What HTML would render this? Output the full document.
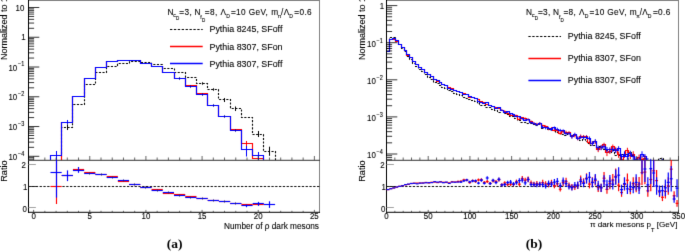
<!DOCTYPE html>
<html><head><meta charset="utf-8"><style>
html,body{margin:0;padding:0;background:#fff;}
body{width:685px;height:252px;overflow:hidden;}
svg{display:block;}
text{font-family:"Liberation Sans", sans-serif;}
</style></head><body>
<svg width="685" height="252" viewBox="0 0 685 252">
<rect width="685" height="252" fill="#fff"/>
<filter id="soft" color-interpolation-filters="sRGB" filterUnits="userSpaceOnUse" x="0" y="0" width="685" height="252"><feConvolveMatrix order="3" kernelMatrix="0 1 0 1 8 1 0 1 0" divisor="12" edgeMode="duplicate"/></filter>
<g filter="url(#soft)">
<g>
<clipPath id="cu"><rect x="28" y="0" width="292" height="160"/></clipPath>
<clipPath id="cl"><rect x="28" y="160" width="292" height="52"/></clipPath>
<clipPath id="cu2"><rect x="386" y="0" width="293" height="160"/></clipPath>
<clipPath id="cl2"><rect x="386" y="160" width="293" height="52"/></clipPath>
<g clip-path="url(#cu)">
<path d="M28.5,160.5 L39.5,160.5 L39.5,160.5 L50.5,160.5 L50.5,160.5 L61.5,160.5 L61.5,127.5 L72.5,127.5 L72.5,104.5 L84.5,104.5 L84.5,84.5 L95.5,84.5 L95.5,72.5 L106.5,72.5 L106.5,66.5 L117.5,66.5 L117.5,63.5 L129.5,63.5 L129.5,61.5 L140.5,61.5 L140.5,62.5 L151.5,62.5 L151.5,64.5 L162.5,64.5 L162.5,68.5 L174.5,68.5 L174.5,72.5 L185.5,72.5 L185.5,77.5 L196.5,77.5 L196.5,83.5 L207.5,83.5 L207.5,89.5 L218.5,89.5 L218.5,99.5 L230.5,99.5 L230.5,108.5 L241.5,108.5 L241.5,117.5 L252.5,117.5 L252.5,134.5 L263.5,134.5 L263.5,151.5 L275.5,151.5 L275.5,160.5 L286.5,160.5 L286.5,160.5 L297.5,160.5 L297.5,160.5 L308.5,160.5 L308.5,160.5 L320.5,160.5" fill="none" stroke="#000" stroke-width="1.1" stroke-dasharray="2.1,1.5"/>
<path d="M28.5,160.5 L39.5,160.5 L39.5,160.5 L50.5,160.5 L50.5,160.5 L61.5,160.5 L61.5,122.5 L72.5,122.5 L72.5,96.5 L84.5,96.5 L84.5,78.5 L95.5,78.5 L95.5,67.5 L106.5,67.5 L106.5,61.5 L117.5,61.5 L117.5,60.5 L129.5,60.5 L129.5,60.5 L140.5,60.5 L140.5,63.5 L151.5,63.5 L151.5,66.5 L162.5,66.5 L162.5,72.5 L174.5,72.5 L174.5,78.5 L185.5,78.5 L185.5,85.5 L196.5,85.5 L196.5,93.5 L207.5,93.5 L207.5,105.5 L218.5,105.5 L218.5,116.5 L230.5,116.5 L230.5,129.5 L241.5,129.5 L241.5,143.5 L252.5,143.5 L252.5,158.5 L263.5,158.5 L263.5,160.5 L275.5,160.5 L275.5,160.5 L286.5,160.5 L286.5,160.5 L297.5,160.5 L297.5,160.5 L308.5,160.5 L308.5,160.5 L320.5,160.5" fill="none" stroke="#ff0000" stroke-width="1.15" />
<path d="M28.5,160.5 L39.5,160.5 L39.5,160.5 L50.5,160.5 L50.5,155.5 L61.5,155.5 L61.5,122.5 L72.5,122.5 L72.5,96.5 L84.5,96.5 L84.5,78.5 L95.5,78.5 L95.5,67.5 L106.5,67.5 L106.5,61.5 L117.5,61.5 L117.5,60.5 L129.5,60.5 L129.5,60.5 L140.5,60.5 L140.5,63.5 L151.5,63.5 L151.5,66.5 L162.5,66.5 L162.5,72.5 L174.5,72.5 L174.5,78.5 L185.5,78.5 L185.5,86.5 L196.5,86.5 L196.5,94.5 L207.5,94.5 L207.5,105.5 L218.5,105.5 L218.5,116.5 L230.5,116.5 L230.5,130.5 L241.5,130.5 L241.5,149.5 L252.5,149.5 L252.5,155.5 L263.5,155.5 L263.5,160.5 L275.5,160.5 L275.5,160.5 L286.5,160.5 L286.5,160.5 L297.5,160.5 L297.5,160.5 L308.5,160.5 L308.5,160.5 L320.5,160.5" fill="none" stroke="#0000ff" stroke-width="1.15" />
<line x1="56.5" y1="151" x2="56.5" y2="161" stroke="#0000ff" stroke-width="1" />
<line x1="67.5" y1="120" x2="67.5" y2="124.5" stroke="#0000ff" stroke-width="1" />
<line x1="67.5" y1="124.5" x2="67.5" y2="130" stroke="#000" stroke-width="1" />
<line x1="246.5" y1="141" x2="246.5" y2="146" stroke="#ff0000" stroke-width="1" />
<line x1="246.5" y1="146" x2="246.5" y2="156.5" stroke="#0000ff" stroke-width="1" />
<line x1="258.5" y1="152" x2="258.5" y2="161" stroke="#0000ff" stroke-width="1" />
<line x1="258.5" y1="131" x2="258.5" y2="137" stroke="#000" stroke-width="1" />
<line x1="269.5" y1="146.7" x2="269.5" y2="155.8" stroke="#000" stroke-width="1" />
<line x1="235.5" y1="106.5" x2="235.5" y2="111" stroke="#000" stroke-width="1" />
<line x1="224.5" y1="98" x2="224.5" y2="102" stroke="#000" stroke-width="1" />
<line x1="202.5" y1="82.2" x2="202.5" y2="84.8" stroke="#000" stroke-width="0.9" />
<line x1="213.5" y1="88.2" x2="213.5" y2="90.8" stroke="#000" stroke-width="0.9" />
<line x1="224.5" y1="98.2" x2="224.5" y2="100.8" stroke="#000" stroke-width="0.9" />
<line x1="235.5" y1="107.2" x2="235.5" y2="109.8" stroke="#000" stroke-width="0.9" />
<line x1="179.5" y1="77.2" x2="179.5" y2="79.8" stroke="#0000aa" stroke-width="0.9" />
<line x1="190.5" y1="85.2" x2="190.5" y2="87.8" stroke="#0000aa" stroke-width="0.9" />
<line x1="202.5" y1="93.2" x2="202.5" y2="95.8" stroke="#0000aa" stroke-width="0.9" />
<line x1="213.5" y1="104.2" x2="213.5" y2="106.8" stroke="#0000aa" stroke-width="0.9" />
<line x1="224.5" y1="115.2" x2="224.5" y2="117.8" stroke="#0000aa" stroke-width="0.9" />
<line x1="235.5" y1="129.2" x2="235.5" y2="131.8" stroke="#0000aa" stroke-width="0.9" />
</g>
<line x1="28.5" y1="0.5" x2="319.5" y2="0.5" stroke="#808080" stroke-width="1" />
<line x1="319.5" y1="0" x2="319.5" y2="160" stroke="#808080" stroke-width="1" />
<line x1="28.5" y1="0" x2="28.5" y2="160.5" stroke="#000000" stroke-width="1" />
<line x1="319.5" y1="160" x2="319.5" y2="212.8" stroke="#808080" stroke-width="1" />
<line x1="28.5" y1="160" x2="28.5" y2="212.8" stroke="#000000" stroke-width="1" />
<line x1="28" y1="212.3" x2="320" y2="212.3" stroke="#000000" stroke-width="1" />
<line x1="28.5" y1="159.18" x2="34.1" y2="159.18" stroke="#000000" stroke-width="0.8" />
<line x1="28.5" y1="157.66" x2="34.1" y2="157.66" stroke="#000000" stroke-width="0.8" />
<line x1="28.5" y1="156.3" x2="39.3" y2="156.3" stroke="#000000" stroke-width="0.8" />
<line x1="28.5" y1="147.34" x2="34.1" y2="147.34" stroke="#000000" stroke-width="0.8" />
<line x1="28.5" y1="142.1" x2="34.1" y2="142.1" stroke="#000000" stroke-width="0.8" />
<line x1="28.5" y1="138.38" x2="34.1" y2="138.38" stroke="#000000" stroke-width="0.8" />
<line x1="28.5" y1="135.5" x2="34.1" y2="135.5" stroke="#000000" stroke-width="0.8" />
<line x1="28.5" y1="133.14" x2="34.1" y2="133.14" stroke="#000000" stroke-width="0.8" />
<line x1="28.5" y1="131.15" x2="34.1" y2="131.15" stroke="#000000" stroke-width="0.8" />
<line x1="28.5" y1="129.42" x2="34.1" y2="129.42" stroke="#000000" stroke-width="0.8" />
<line x1="28.5" y1="127.9" x2="34.1" y2="127.9" stroke="#000000" stroke-width="0.8" />
<line x1="28.5" y1="126.54" x2="39.3" y2="126.54" stroke="#000000" stroke-width="0.8" />
<line x1="28.5" y1="117.58" x2="34.1" y2="117.58" stroke="#000000" stroke-width="0.8" />
<line x1="28.5" y1="112.34" x2="34.1" y2="112.34" stroke="#000000" stroke-width="0.8" />
<line x1="28.5" y1="108.62" x2="34.1" y2="108.62" stroke="#000000" stroke-width="0.8" />
<line x1="28.5" y1="105.74" x2="34.1" y2="105.74" stroke="#000000" stroke-width="0.8" />
<line x1="28.5" y1="103.38" x2="34.1" y2="103.38" stroke="#000000" stroke-width="0.8" />
<line x1="28.5" y1="101.39" x2="34.1" y2="101.39" stroke="#000000" stroke-width="0.8" />
<line x1="28.5" y1="99.66" x2="34.1" y2="99.66" stroke="#000000" stroke-width="0.8" />
<line x1="28.5" y1="98.14" x2="34.1" y2="98.14" stroke="#000000" stroke-width="0.8" />
<line x1="28.5" y1="96.78" x2="39.3" y2="96.78" stroke="#000000" stroke-width="0.8" />
<line x1="28.5" y1="87.82" x2="34.1" y2="87.82" stroke="#000000" stroke-width="0.8" />
<line x1="28.5" y1="82.58" x2="34.1" y2="82.58" stroke="#000000" stroke-width="0.8" />
<line x1="28.5" y1="78.86" x2="34.1" y2="78.86" stroke="#000000" stroke-width="0.8" />
<line x1="28.5" y1="75.98" x2="34.1" y2="75.98" stroke="#000000" stroke-width="0.8" />
<line x1="28.5" y1="73.62" x2="34.1" y2="73.62" stroke="#000000" stroke-width="0.8" />
<line x1="28.5" y1="71.63" x2="34.1" y2="71.63" stroke="#000000" stroke-width="0.8" />
<line x1="28.5" y1="69.9" x2="34.1" y2="69.9" stroke="#000000" stroke-width="0.8" />
<line x1="28.5" y1="68.38" x2="34.1" y2="68.38" stroke="#000000" stroke-width="0.8" />
<line x1="28.5" y1="67.02" x2="39.3" y2="67.02" stroke="#000000" stroke-width="0.8" />
<line x1="28.5" y1="58.06" x2="34.1" y2="58.06" stroke="#000000" stroke-width="0.8" />
<line x1="28.5" y1="52.82" x2="34.1" y2="52.82" stroke="#000000" stroke-width="0.8" />
<line x1="28.5" y1="49.1" x2="34.1" y2="49.1" stroke="#000000" stroke-width="0.8" />
<line x1="28.5" y1="46.22" x2="34.1" y2="46.22" stroke="#000000" stroke-width="0.8" />
<line x1="28.5" y1="43.86" x2="34.1" y2="43.86" stroke="#000000" stroke-width="0.8" />
<line x1="28.5" y1="41.87" x2="34.1" y2="41.87" stroke="#000000" stroke-width="0.8" />
<line x1="28.5" y1="40.14" x2="34.1" y2="40.14" stroke="#000000" stroke-width="0.8" />
<line x1="28.5" y1="38.62" x2="34.1" y2="38.62" stroke="#000000" stroke-width="0.8" />
<line x1="28.5" y1="37.26" x2="39.3" y2="37.26" stroke="#000000" stroke-width="0.8" />
<line x1="28.5" y1="28.3" x2="34.1" y2="28.3" stroke="#000000" stroke-width="0.8" />
<line x1="28.5" y1="23.06" x2="34.1" y2="23.06" stroke="#000000" stroke-width="0.8" />
<line x1="28.5" y1="19.34" x2="34.1" y2="19.34" stroke="#000000" stroke-width="0.8" />
<line x1="28.5" y1="16.46" x2="34.1" y2="16.46" stroke="#000000" stroke-width="0.8" />
<line x1="28.5" y1="14.1" x2="34.1" y2="14.1" stroke="#000000" stroke-width="0.8" />
<line x1="28.5" y1="12.11" x2="34.1" y2="12.11" stroke="#000000" stroke-width="0.8" />
<line x1="28.5" y1="10.38" x2="34.1" y2="10.38" stroke="#000000" stroke-width="0.8" />
<line x1="28.5" y1="8.86" x2="34.1" y2="8.86" stroke="#000000" stroke-width="0.8" />
<line x1="28.5" y1="7.5" x2="39.3" y2="7.5" stroke="#000000" stroke-width="0.8" />
<line x1="33.62" y1="160" x2="33.62" y2="156" stroke="#333" stroke-width="0.75" />
<line x1="33.62" y1="212.3" x2="33.62" y2="209.9" stroke="#333" stroke-width="0.75" />
<line x1="44.85" y1="160" x2="44.85" y2="157.5" stroke="#333" stroke-width="0.75" />
<line x1="44.85" y1="212.3" x2="44.85" y2="210.8" stroke="#333" stroke-width="0.75" />
<line x1="56.08" y1="160" x2="56.08" y2="157.5" stroke="#333" stroke-width="0.75" />
<line x1="56.08" y1="212.3" x2="56.08" y2="210.8" stroke="#333" stroke-width="0.75" />
<line x1="67.31" y1="160" x2="67.31" y2="157.5" stroke="#333" stroke-width="0.75" />
<line x1="67.31" y1="212.3" x2="67.31" y2="210.8" stroke="#333" stroke-width="0.75" />
<line x1="78.54" y1="160" x2="78.54" y2="157.5" stroke="#333" stroke-width="0.75" />
<line x1="78.54" y1="212.3" x2="78.54" y2="210.8" stroke="#333" stroke-width="0.75" />
<line x1="89.77" y1="160" x2="89.77" y2="156" stroke="#333" stroke-width="0.75" />
<line x1="89.77" y1="212.3" x2="89.77" y2="209.9" stroke="#333" stroke-width="0.75" />
<line x1="101" y1="160" x2="101" y2="157.5" stroke="#333" stroke-width="0.75" />
<line x1="101" y1="212.3" x2="101" y2="210.8" stroke="#333" stroke-width="0.75" />
<line x1="112.23" y1="160" x2="112.23" y2="157.5" stroke="#333" stroke-width="0.75" />
<line x1="112.23" y1="212.3" x2="112.23" y2="210.8" stroke="#333" stroke-width="0.75" />
<line x1="123.46" y1="160" x2="123.46" y2="157.5" stroke="#333" stroke-width="0.75" />
<line x1="123.46" y1="212.3" x2="123.46" y2="210.8" stroke="#333" stroke-width="0.75" />
<line x1="134.69" y1="160" x2="134.69" y2="157.5" stroke="#333" stroke-width="0.75" />
<line x1="134.69" y1="212.3" x2="134.69" y2="210.8" stroke="#333" stroke-width="0.75" />
<line x1="145.92" y1="160" x2="145.92" y2="156" stroke="#333" stroke-width="0.75" />
<line x1="145.92" y1="212.3" x2="145.92" y2="209.9" stroke="#333" stroke-width="0.75" />
<line x1="157.15" y1="160" x2="157.15" y2="157.5" stroke="#333" stroke-width="0.75" />
<line x1="157.15" y1="212.3" x2="157.15" y2="210.8" stroke="#333" stroke-width="0.75" />
<line x1="168.38" y1="160" x2="168.38" y2="157.5" stroke="#333" stroke-width="0.75" />
<line x1="168.38" y1="212.3" x2="168.38" y2="210.8" stroke="#333" stroke-width="0.75" />
<line x1="179.62" y1="160" x2="179.62" y2="157.5" stroke="#333" stroke-width="0.75" />
<line x1="179.62" y1="212.3" x2="179.62" y2="210.8" stroke="#333" stroke-width="0.75" />
<line x1="190.85" y1="160" x2="190.85" y2="157.5" stroke="#333" stroke-width="0.75" />
<line x1="190.85" y1="212.3" x2="190.85" y2="210.8" stroke="#333" stroke-width="0.75" />
<line x1="202.08" y1="160" x2="202.08" y2="156" stroke="#333" stroke-width="0.75" />
<line x1="202.08" y1="212.3" x2="202.08" y2="209.9" stroke="#333" stroke-width="0.75" />
<line x1="213.31" y1="160" x2="213.31" y2="157.5" stroke="#333" stroke-width="0.75" />
<line x1="213.31" y1="212.3" x2="213.31" y2="210.8" stroke="#333" stroke-width="0.75" />
<line x1="224.54" y1="160" x2="224.54" y2="157.5" stroke="#333" stroke-width="0.75" />
<line x1="224.54" y1="212.3" x2="224.54" y2="210.8" stroke="#333" stroke-width="0.75" />
<line x1="235.77" y1="160" x2="235.77" y2="157.5" stroke="#333" stroke-width="0.75" />
<line x1="235.77" y1="212.3" x2="235.77" y2="210.8" stroke="#333" stroke-width="0.75" />
<line x1="247" y1="160" x2="247" y2="157.5" stroke="#333" stroke-width="0.75" />
<line x1="247" y1="212.3" x2="247" y2="210.8" stroke="#333" stroke-width="0.75" />
<line x1="258.23" y1="160" x2="258.23" y2="156" stroke="#333" stroke-width="0.75" />
<line x1="258.23" y1="212.3" x2="258.23" y2="209.9" stroke="#333" stroke-width="0.75" />
<line x1="269.46" y1="160" x2="269.46" y2="157.5" stroke="#333" stroke-width="0.75" />
<line x1="269.46" y1="212.3" x2="269.46" y2="210.8" stroke="#333" stroke-width="0.75" />
<line x1="280.69" y1="160" x2="280.69" y2="157.5" stroke="#333" stroke-width="0.75" />
<line x1="280.69" y1="212.3" x2="280.69" y2="210.8" stroke="#333" stroke-width="0.75" />
<line x1="291.92" y1="160" x2="291.92" y2="157.5" stroke="#333" stroke-width="0.75" />
<line x1="291.92" y1="212.3" x2="291.92" y2="210.8" stroke="#333" stroke-width="0.75" />
<line x1="303.15" y1="160" x2="303.15" y2="157.5" stroke="#333" stroke-width="0.75" />
<line x1="303.15" y1="212.3" x2="303.15" y2="210.8" stroke="#333" stroke-width="0.75" />
<line x1="314.38" y1="160" x2="314.38" y2="156" stroke="#333" stroke-width="0.75" />
<line x1="314.38" y1="212.3" x2="314.38" y2="209.9" stroke="#333" stroke-width="0.75" />
<line x1="28" y1="160.3" x2="320" y2="160.3" stroke="#333" stroke-width="1" />
<line x1="28.5" y1="164.5" x2="35.9" y2="164.5" stroke="#999" stroke-width="0.9" />
<line x1="28.5" y1="207.5" x2="35.9" y2="207.5" stroke="#999" stroke-width="0.9" />
<line x1="28.5" y1="186.5" x2="37.7" y2="186.5" stroke="#333" stroke-width="1" />
<g clip-path="url(#cl)">
<line x1="28" y1="186.5" x2="320" y2="186.5" stroke="#111" stroke-width="1" stroke-dasharray="2.3,1.5" stroke-dashoffset="-0.2"/>
<line x1="50.46" y1="186.5" x2="61.69" y2="186.5" stroke="#ff0000" stroke-width="1.15" />
<line x1="56.5" y1="160" x2="56.5" y2="204" stroke="#ff0000" stroke-width="1.15" />
<line x1="61.69" y1="175.5" x2="72.92" y2="175.5" stroke="#ff0000" stroke-width="1.15" />
<line x1="72.92" y1="169.5" x2="84.15" y2="169.5" stroke="#ff0000" stroke-width="1.15" />
<line x1="84.15" y1="172.5" x2="95.38" y2="172.5" stroke="#ff0000" stroke-width="1.15" />
<line x1="95.38" y1="174.5" x2="106.62" y2="174.5" stroke="#ff0000" stroke-width="1.15" />
<line x1="106.62" y1="176.5" x2="117.85" y2="176.5" stroke="#ff0000" stroke-width="1.15" />
<line x1="117.85" y1="181.5" x2="129.08" y2="181.5" stroke="#ff0000" stroke-width="1.15" />
<line x1="129.08" y1="184.5" x2="140.31" y2="184.5" stroke="#ff0000" stroke-width="1.15" />
<line x1="140.31" y1="187.5" x2="151.54" y2="187.5" stroke="#ff0000" stroke-width="1.15" />
<line x1="151.54" y1="189.5" x2="162.77" y2="189.5" stroke="#ff0000" stroke-width="1.15" />
<line x1="162.77" y1="193.5" x2="174" y2="193.5" stroke="#ff0000" stroke-width="1.15" />
<line x1="174" y1="194.5" x2="185.23" y2="194.5" stroke="#ff0000" stroke-width="1.15" />
<line x1="185.23" y1="196.5" x2="196.46" y2="196.5" stroke="#ff0000" stroke-width="1.15" />
<line x1="196.46" y1="198.5" x2="207.69" y2="198.5" stroke="#ff0000" stroke-width="1.15" />
<line x1="207.69" y1="200.5" x2="218.92" y2="200.5" stroke="#ff0000" stroke-width="1.15" />
<line x1="218.92" y1="201.5" x2="230.15" y2="201.5" stroke="#ff0000" stroke-width="1.15" />
<line x1="230.15" y1="203.5" x2="241.38" y2="203.5" stroke="#ff0000" stroke-width="1.15" />
<line x1="241.38" y1="204.5" x2="252.62" y2="204.5" stroke="#ff0000" stroke-width="1.15" />
<line x1="252.62" y1="204.5" x2="263.85" y2="204.5" stroke="#ff0000" stroke-width="1.15" />
<line x1="50.46" y1="172.5" x2="61.69" y2="172.5" stroke="#0000ff" stroke-width="1.15" />
<line x1="56.5" y1="158" x2="56.5" y2="197.6" stroke="#0000ff" stroke-width="1.15" />
<line x1="61.69" y1="175.5" x2="72.92" y2="175.5" stroke="#0000ff" stroke-width="1.15" />
<line x1="67.5" y1="170.4" x2="67.5" y2="181.1" stroke="#0000ff" stroke-width="1.15" />
<line x1="72.92" y1="170.5" x2="84.15" y2="170.5" stroke="#0000ff" stroke-width="1.15" />
<line x1="78.5" y1="167" x2="78.5" y2="172.8" stroke="#0000ff" stroke-width="1.15" />
<line x1="84.15" y1="173.5" x2="95.38" y2="173.5" stroke="#0000ff" stroke-width="1.15" />
<line x1="89.5" y1="172.5" x2="89.5" y2="174.5" stroke="#202080" stroke-width="1" />
<line x1="95.38" y1="174.5" x2="106.62" y2="174.5" stroke="#0000ff" stroke-width="1.15" />
<line x1="101.5" y1="173.5" x2="101.5" y2="175.5" stroke="#202080" stroke-width="1" />
<line x1="106.62" y1="177.5" x2="117.85" y2="177.5" stroke="#0000ff" stroke-width="1.15" />
<line x1="112.5" y1="176.5" x2="112.5" y2="178.5" stroke="#202080" stroke-width="1" />
<line x1="117.85" y1="180.5" x2="129.08" y2="180.5" stroke="#0000ff" stroke-width="1.15" />
<line x1="123.5" y1="179.5" x2="123.5" y2="181.5" stroke="#202080" stroke-width="1" />
<line x1="129.08" y1="184.5" x2="140.31" y2="184.5" stroke="#0000ff" stroke-width="1.15" />
<line x1="134.5" y1="183.5" x2="134.5" y2="185.5" stroke="#202080" stroke-width="1" />
<line x1="140.31" y1="187.5" x2="151.54" y2="187.5" stroke="#0000ff" stroke-width="1.15" />
<line x1="145.5" y1="186.5" x2="145.5" y2="188.5" stroke="#202080" stroke-width="1" />
<line x1="151.54" y1="190.5" x2="162.77" y2="190.5" stroke="#0000ff" stroke-width="1.15" />
<line x1="157.5" y1="189.5" x2="157.5" y2="191.5" stroke="#202080" stroke-width="1" />
<line x1="162.77" y1="192.5" x2="174" y2="192.5" stroke="#0000ff" stroke-width="1.15" />
<line x1="168.5" y1="191.5" x2="168.5" y2="193.5" stroke="#202080" stroke-width="1" />
<line x1="174" y1="195.5" x2="185.23" y2="195.5" stroke="#0000ff" stroke-width="1.15" />
<line x1="179.5" y1="194.5" x2="179.5" y2="196.5" stroke="#202080" stroke-width="1" />
<line x1="185.23" y1="197.5" x2="196.46" y2="197.5" stroke="#0000ff" stroke-width="1.15" />
<line x1="190.5" y1="196.5" x2="190.5" y2="198.5" stroke="#202080" stroke-width="1" />
<line x1="196.46" y1="198.5" x2="207.69" y2="198.5" stroke="#0000ff" stroke-width="1.15" />
<line x1="202.5" y1="197.5" x2="202.5" y2="199.5" stroke="#202080" stroke-width="1" />
<line x1="207.69" y1="200.5" x2="218.92" y2="200.5" stroke="#0000ff" stroke-width="1.15" />
<line x1="213.5" y1="199.5" x2="213.5" y2="201.5" stroke="#202080" stroke-width="1" />
<line x1="218.92" y1="201.5" x2="230.15" y2="201.5" stroke="#0000ff" stroke-width="1.15" />
<line x1="224.5" y1="200.5" x2="224.5" y2="202.5" stroke="#202080" stroke-width="1" />
<line x1="230.15" y1="203.5" x2="241.38" y2="203.5" stroke="#0000ff" stroke-width="1.15" />
<line x1="235.5" y1="202.5" x2="235.5" y2="204.5" stroke="#202080" stroke-width="1" />
<line x1="241.38" y1="205.5" x2="252.62" y2="205.5" stroke="#0000ff" stroke-width="1.15" />
<line x1="246.5" y1="204.5" x2="246.5" y2="207.2" stroke="#0000ff" stroke-width="1.15" />
<line x1="252.62" y1="203.5" x2="263.85" y2="203.5" stroke="#0000ff" stroke-width="1.15" />
<line x1="258.5" y1="201.9" x2="258.5" y2="205.9" stroke="#0000ff" stroke-width="1.15" />
<line x1="263.85" y1="204.5" x2="275.08" y2="204.5" stroke="#0000ff" stroke-width="1.15" />
<line x1="269.5" y1="201.3" x2="269.5" y2="207.9" stroke="#0000ff" stroke-width="1.15" />
</g>
</g>
<g clip-path="url(#cu2)">
<path d="M386.5,48.5 L389.5,48.5 L389.5,37.5 L392.5,37.5 L392.5,37.5 L395.5,37.5 L395.5,40.5 L398.5,40.5 L398.5,44.5 L401.5,44.5 L401.5,48.5 L404.5,48.5 L404.5,51.5 L406.5,51.5 L406.5,56.5 L409.5,56.5 L409.5,59.5 L412.5,59.5 L412.5,63.5 L415.5,63.5 L415.5,66.5 L418.5,66.5 L418.5,69.5 L421.5,69.5 L421.5,71.5 L424.5,71.5 L424.5,74.5 L427.5,74.5 L427.5,77.5 L430.5,77.5 L430.5,79.5 L433.5,79.5 L433.5,82.5 L436.5,82.5 L436.5,83.5 L439.5,83.5 L439.5,85.5 L441.5,85.5 L441.5,87.5 L444.5,87.5 L444.5,88.5 L447.5,88.5 L447.5,90.5 L450.5,90.5 L450.5,91.5 L453.5,91.5 L453.5,93.5 L456.5,93.5 L456.5,94.5 L459.5,94.5 L459.5,95.5 L462.5,95.5 L462.5,97.5 L465.5,97.5 L465.5,98.5 L468.5,98.5 L468.5,99.5 L471.5,99.5 L471.5,100.5 L474.5,100.5 L474.5,101.5 L477.5,101.5 L477.5,103.5 L479.5,103.5 L479.5,105.5 L482.5,105.5 L482.5,105.5 L485.5,105.5 L485.5,107.5 L488.5,107.5 L488.5,107.5 L491.5,107.5 L491.5,109.5 L494.5,109.5 L494.5,110.5 L497.5,110.5 L497.5,112.5 L500.5,112.5 L500.5,110.5 L503.5,110.5 L503.5,113.5 L506.5,113.5 L506.5,114.5 L509.5,114.5 L509.5,116.5 L512.5,116.5 L512.5,116.5 L514.5,116.5 L514.5,118.5 L517.5,118.5 L517.5,120.5 L520.5,120.5 L520.5,122.5 L523.5,122.5 L523.5,122.5 L526.5,122.5 L526.5,123.5 L529.5,123.5 L529.5,123.5 L532.5,123.5 L532.5,124.5 L535.5,124.5 L535.5,125.5 L538.5,125.5 L538.5,124.5 L541.5,124.5 L541.5,128.5 L544.5,128.5 L544.5,127.5 L547.5,127.5 L547.5,129.5 L550.5,129.5 L550.5,130.5 L552.5,130.5 L552.5,130.5 L555.5,130.5 L555.5,132.5 L558.5,132.5 L558.5,130.5 L561.5,130.5 L561.5,134.5 L564.5,134.5 L564.5,135.5 L567.5,135.5 L567.5,133.5 L570.5,133.5 L570.5,135.5 L573.5,135.5 L573.5,134.5 L576.5,134.5 L576.5,138.5 L579.5,138.5 L579.5,140.5 L582.5,140.5 L582.5,139.5 L585.5,139.5 L585.5,141.5 L587.5,141.5 L587.5,143.5 L590.5,143.5 L590.5,145.5 L593.5,145.5 L593.5,145.5 L596.5,145.5 L596.5,148.5 L599.5,148.5 L599.5,146.5 L602.5,146.5 L602.5,149.5 L605.5,149.5 L605.5,150.5 L608.5,150.5 L608.5,152.5 L611.5,152.5 L611.5,150.5 L614.5,150.5 L614.5,155.5 L617.5,155.5 L617.5,155.5 L620.5,155.5 L620.5,154.5 L623.5,154.5 L623.5,155.5 L625.5,155.5 L625.5,154.5 L628.5,154.5 L628.5,152.5 L631.5,152.5 L631.5,155.5 L634.5,155.5 L634.5,162.5 L637.5,162.5 L637.5,158.5 L640.5,158.5 L640.5,162.5 L643.5,162.5 L643.5,162.5 L646.5,162.5 L646.5,162.5 L649.5,162.5 L649.5,162.5 L652.5,162.5 L652.5,162.5 L655.5,162.5 L655.5,162.5 L658.5,162.5 L658.5,158.5 L660.5,158.5 L660.5,158.5 L663.5,158.5 L663.5,162.5 L666.5,162.5 L666.5,162.5 L669.5,162.5 L669.5,162.5 L672.5,162.5 L672.5,160.5 L675.5,160.5 L675.5,162.5 L678.5,162.5" fill="none" stroke="#000" stroke-width="1.05" stroke-dasharray="2.1,1.5"/>
<path d="M386.5,51.5 L389.5,51.5 L389.5,39.5 L392.5,39.5 L392.5,39.5 L395.5,39.5 L395.5,41.5 L398.5,41.5 L398.5,44.5 L401.5,44.5 L401.5,47.5 L404.5,47.5 L404.5,50.5 L406.5,50.5 L406.5,55.5 L409.5,55.5 L409.5,57.5 L412.5,57.5 L412.5,61.5 L415.5,61.5 L415.5,64.5 L418.5,64.5 L418.5,67.5 L421.5,67.5 L421.5,69.5 L424.5,69.5 L424.5,72.5 L427.5,72.5 L427.5,74.5 L430.5,74.5 L430.5,76.5 L433.5,76.5 L433.5,79.5 L436.5,79.5 L436.5,81.5 L439.5,81.5 L439.5,82.5 L441.5,82.5 L441.5,84.5 L444.5,84.5 L444.5,85.5 L447.5,85.5 L447.5,87.5 L450.5,87.5 L450.5,88.5 L453.5,88.5 L453.5,90.5 L456.5,90.5 L456.5,91.5 L459.5,91.5 L459.5,92.5 L462.5,92.5 L462.5,93.5 L465.5,93.5 L465.5,94.5 L468.5,94.5 L468.5,97.5 L471.5,97.5 L471.5,97.5 L474.5,97.5 L474.5,98.5 L477.5,98.5 L477.5,99.5 L479.5,99.5 L479.5,101.5 L482.5,101.5 L482.5,102.5 L485.5,102.5 L485.5,104.5 L488.5,104.5 L488.5,105.5 L491.5,105.5 L491.5,106.5 L494.5,106.5 L494.5,107.5 L497.5,107.5 L497.5,108.5 L500.5,108.5 L500.5,110.5 L503.5,110.5 L503.5,111.5 L506.5,111.5 L506.5,113.5 L509.5,113.5 L509.5,115.5 L512.5,115.5 L512.5,114.5 L514.5,114.5 L514.5,115.5 L517.5,115.5 L517.5,119.5 L520.5,119.5 L520.5,117.5 L523.5,117.5 L523.5,118.5 L526.5,118.5 L526.5,119.5 L529.5,119.5 L529.5,121.5 L532.5,121.5 L532.5,123.5 L535.5,123.5 L535.5,124.5 L538.5,124.5 L538.5,123.5 L541.5,123.5 L541.5,125.5 L544.5,125.5 L544.5,126.5 L547.5,126.5 L547.5,128.5 L550.5,128.5 L550.5,128.5 L552.5,128.5 L552.5,130.5 L555.5,130.5 L555.5,130.5 L558.5,130.5 L558.5,133.5 L561.5,133.5 L561.5,131.5 L564.5,131.5 L564.5,132.5 L567.5,132.5 L567.5,132.5 L570.5,132.5 L570.5,136.5 L573.5,136.5 L573.5,135.5 L576.5,135.5 L576.5,138.5 L579.5,138.5 L579.5,136.5 L582.5,136.5 L582.5,136.5 L585.5,136.5 L585.5,136.5 L587.5,136.5 L587.5,142.5 L590.5,142.5 L590.5,143.5 L593.5,143.5 L593.5,141.5 L596.5,141.5 L596.5,149.5 L599.5,149.5 L599.5,147.5 L602.5,147.5 L602.5,144.5 L605.5,144.5 L605.5,152.5 L608.5,152.5 L608.5,151.5 L611.5,151.5 L611.5,146.5 L614.5,146.5 L614.5,149.5 L617.5,149.5 L617.5,154.5 L620.5,154.5 L620.5,159.5 L623.5,159.5 L623.5,154.5 L625.5,154.5 L625.5,150.5 L628.5,150.5 L628.5,155.5 L631.5,155.5 L631.5,154.5 L634.5,154.5 L634.5,161.5 L637.5,161.5 L637.5,157.5 L640.5,157.5 L640.5,159.5 L643.5,159.5 L643.5,158.5 L646.5,158.5 L646.5,162.5 L649.5,162.5 L649.5,162.5 L652.5,162.5 L652.5,162.5 L655.5,162.5 L655.5,162.5 L658.5,162.5 L658.5,162.5 L660.5,162.5 L660.5,162.5 L663.5,162.5 L663.5,162.5 L666.5,162.5 L666.5,162.5 L669.5,162.5 L669.5,162.5 L672.5,162.5 L672.5,162.5 L675.5,162.5 L675.5,162.5 L678.5,162.5" fill="none" stroke="#ff0000" stroke-width="1.15" />
<path d="M386.5,51.5 L389.5,51.5 L389.5,39.5 L392.5,39.5 L392.5,38.5 L395.5,38.5 L395.5,40.5 L398.5,40.5 L398.5,44.5 L401.5,44.5 L401.5,47.5 L404.5,47.5 L404.5,50.5 L406.5,50.5 L406.5,54.5 L409.5,54.5 L409.5,57.5 L412.5,57.5 L412.5,61.5 L415.5,61.5 L415.5,64.5 L418.5,64.5 L418.5,67.5 L421.5,67.5 L421.5,69.5 L424.5,69.5 L424.5,72.5 L427.5,72.5 L427.5,74.5 L430.5,74.5 L430.5,76.5 L433.5,76.5 L433.5,79.5 L436.5,79.5 L436.5,80.5 L439.5,80.5 L439.5,82.5 L441.5,82.5 L441.5,84.5 L444.5,84.5 L444.5,85.5 L447.5,85.5 L447.5,88.5 L450.5,88.5 L450.5,89.5 L453.5,89.5 L453.5,90.5 L456.5,90.5 L456.5,91.5 L459.5,91.5 L459.5,92.5 L462.5,92.5 L462.5,94.5 L465.5,94.5 L465.5,94.5 L468.5,94.5 L468.5,96.5 L471.5,96.5 L471.5,97.5 L474.5,97.5 L474.5,98.5 L477.5,98.5 L477.5,101.5 L479.5,101.5 L479.5,102.5 L482.5,102.5 L482.5,103.5 L485.5,103.5 L485.5,102.5 L488.5,102.5 L488.5,105.5 L491.5,105.5 L491.5,106.5 L494.5,106.5 L494.5,108.5 L497.5,108.5 L497.5,107.5 L500.5,107.5 L500.5,110.5 L503.5,110.5 L503.5,112.5 L506.5,112.5 L506.5,111.5 L509.5,111.5 L509.5,113.5 L512.5,113.5 L512.5,114.5 L514.5,114.5 L514.5,116.5 L517.5,116.5 L517.5,116.5 L520.5,116.5 L520.5,118.5 L523.5,118.5 L523.5,120.5 L526.5,120.5 L526.5,119.5 L529.5,119.5 L529.5,122.5 L532.5,122.5 L532.5,123.5 L535.5,123.5 L535.5,124.5 L538.5,124.5 L538.5,123.5 L541.5,123.5 L541.5,127.5 L544.5,127.5 L544.5,127.5 L547.5,127.5 L547.5,128.5 L550.5,128.5 L550.5,129.5 L552.5,129.5 L552.5,127.5 L555.5,127.5 L555.5,129.5 L558.5,129.5 L558.5,130.5 L561.5,130.5 L561.5,130.5 L564.5,130.5 L564.5,133.5 L567.5,133.5 L567.5,133.5 L570.5,133.5 L570.5,136.5 L573.5,136.5 L573.5,134.5 L576.5,134.5 L576.5,138.5 L579.5,138.5 L579.5,137.5 L582.5,137.5 L582.5,137.5 L585.5,137.5 L585.5,137.5 L587.5,137.5 L587.5,138.5 L590.5,138.5 L590.5,143.5 L593.5,143.5 L593.5,141.5 L596.5,141.5 L596.5,147.5 L599.5,147.5 L599.5,147.5 L602.5,147.5 L602.5,146.5 L605.5,146.5 L605.5,149.5 L608.5,149.5 L608.5,149.5 L611.5,149.5 L611.5,149.5 L614.5,149.5 L614.5,150.5 L617.5,150.5 L617.5,148.5 L620.5,148.5 L620.5,156.5 L623.5,156.5 L623.5,154.5 L625.5,154.5 L625.5,156.5 L628.5,156.5 L628.5,153.5 L631.5,153.5 L631.5,156.5 L634.5,156.5 L634.5,159.5 L637.5,159.5 L637.5,160.5 L640.5,160.5 L640.5,154.5 L643.5,154.5 L643.5,156.5 L646.5,156.5 L646.5,161.5 L649.5,161.5 L649.5,162.5 L652.5,162.5 L652.5,162.5 L655.5,162.5 L655.5,162.5 L658.5,162.5 L658.5,162.5 L660.5,162.5 L660.5,162.5 L663.5,162.5 L663.5,162.5 L666.5,162.5 L666.5,162.5 L669.5,162.5 L669.5,162.5 L672.5,162.5 L672.5,162.5 L675.5,162.5 L675.5,162.5 L678.5,162.5" fill="none" stroke="#0000ff" stroke-width="1.15" />
<line x1="501.84" y1="109.31" x2="501.84" y2="110.82" stroke="#ff0000" stroke-width="1" />
<line x1="504.76" y1="110.41" x2="504.76" y2="111.97" stroke="#ff0000" stroke-width="1" />
<line x1="507.68" y1="112.45" x2="507.68" y2="114.11" stroke="#ff0000" stroke-width="1" />
<line x1="510.6" y1="114.41" x2="510.6" y2="116.18" stroke="#ff0000" stroke-width="1" />
<line x1="513.52" y1="114.12" x2="513.52" y2="115.88" stroke="#ff0000" stroke-width="1" />
<line x1="516.44" y1="114.84" x2="516.44" y2="116.63" stroke="#ff0000" stroke-width="1" />
<line x1="519.36" y1="118.18" x2="519.36" y2="120.17" stroke="#ff0000" stroke-width="1" />
<line x1="522.28" y1="117.02" x2="522.28" y2="118.95" stroke="#ff0000" stroke-width="1" />
<line x1="525.2" y1="117.47" x2="525.2" y2="119.43" stroke="#ff0000" stroke-width="1" />
<line x1="528.12" y1="118.48" x2="528.12" y2="120.5" stroke="#ff0000" stroke-width="1" />
<line x1="531.04" y1="120.43" x2="531.04" y2="122.57" stroke="#ff0000" stroke-width="1" />
<line x1="533.96" y1="122.18" x2="533.96" y2="124.45" stroke="#ff0000" stroke-width="1" />
<line x1="536.88" y1="122.89" x2="536.88" y2="125.21" stroke="#ff0000" stroke-width="1" />
<line x1="539.8" y1="122.33" x2="539.8" y2="124.61" stroke="#ff0000" stroke-width="1" />
<line x1="542.72" y1="124.68" x2="542.72" y2="127.14" stroke="#ff0000" stroke-width="1" />
<line x1="545.64" y1="125.32" x2="545.64" y2="127.84" stroke="#ff0000" stroke-width="1" />
<line x1="548.56" y1="127.54" x2="548.56" y2="130.25" stroke="#ff0000" stroke-width="1" />
<line x1="551.48" y1="127.12" x2="551.48" y2="129.78" stroke="#ff0000" stroke-width="1" />
<line x1="554.4" y1="128.67" x2="554.4" y2="131.47" stroke="#ff0000" stroke-width="1" />
<line x1="557.32" y1="129.26" x2="557.32" y2="132.11" stroke="#ff0000" stroke-width="1" />
<line x1="560.24" y1="131.74" x2="560.24" y2="134.83" stroke="#ff0000" stroke-width="1" />
<line x1="563.16" y1="130.39" x2="563.16" y2="133.35" stroke="#ff0000" stroke-width="1" />
<line x1="566.08" y1="130.78" x2="566.08" y2="133.78" stroke="#ff0000" stroke-width="1" />
<line x1="569" y1="131.18" x2="569" y2="134.22" stroke="#ff0000" stroke-width="1" />
<line x1="571.92" y1="134.86" x2="571.92" y2="138.28" stroke="#ff0000" stroke-width="1" />
<line x1="574.84" y1="134.02" x2="574.84" y2="137.35" stroke="#ff0000" stroke-width="1" />
<line x1="577.76" y1="136.68" x2="577.76" y2="140.32" stroke="#ff0000" stroke-width="1" />
<line x1="580.68" y1="134.51" x2="580.68" y2="137.91" stroke="#ff0000" stroke-width="1" />
<line x1="583.6" y1="135.03" x2="583.6" y2="138.48" stroke="#ff0000" stroke-width="1" />
<line x1="586.52" y1="135.2" x2="586.52" y2="138.67" stroke="#ff0000" stroke-width="1" />
<line x1="589.44" y1="140.38" x2="589.44" y2="144.49" stroke="#ff0000" stroke-width="1" />
<line x1="592.36" y1="141.13" x2="592.36" y2="145.35" stroke="#ff0000" stroke-width="1" />
<line x1="595.28" y1="139.89" x2="595.28" y2="143.94" stroke="#ff0000" stroke-width="1" />
<line x1="598.2" y1="147" x2="598.2" y2="152.14" stroke="#ff0000" stroke-width="1" />
<line x1="601.12" y1="145.23" x2="601.12" y2="150.07" stroke="#ff0000" stroke-width="1" />
<line x1="604.04" y1="142.76" x2="604.04" y2="147.21" stroke="#ff0000" stroke-width="1" />
<line x1="606.96" y1="150.34" x2="606.96" y2="156.09" stroke="#ff0000" stroke-width="1" />
<line x1="609.88" y1="148.58" x2="609.88" y2="154" stroke="#ff0000" stroke-width="1" />
<line x1="612.8" y1="144.57" x2="612.8" y2="149.31" stroke="#ff0000" stroke-width="1" />
<line x1="615.72" y1="147.38" x2="615.72" y2="152.58" stroke="#ff0000" stroke-width="1" />
<line x1="618.64" y1="151.8" x2="618.64" y2="157.86" stroke="#ff0000" stroke-width="1" />
<line x1="621.56" y1="156.57" x2="621.56" y2="163.71" stroke="#ff0000" stroke-width="1" />
<line x1="624.48" y1="151.8" x2="624.48" y2="157.86" stroke="#ff0000" stroke-width="1" />
<line x1="627.4" y1="147.77" x2="627.4" y2="153.04" stroke="#ff0000" stroke-width="1" />
<line x1="630.32" y1="152.86" x2="630.32" y2="159.14" stroke="#ff0000" stroke-width="1" />
<line x1="633.24" y1="151.3" x2="633.24" y2="157.25" stroke="#ff0000" stroke-width="1" />
<line x1="636.16" y1="158.03" x2="636.16" y2="165.56" stroke="#ff0000" stroke-width="1" />
<line x1="639.08" y1="154.6" x2="639.08" y2="161.27" stroke="#ff0000" stroke-width="1" />
<line x1="642" y1="156.57" x2="642" y2="163.71" stroke="#ff0000" stroke-width="1" />
<line x1="644.92" y1="155.23" x2="644.92" y2="162.05" stroke="#ff0000" stroke-width="1" />
<line x1="647.84" y1="162.46" x2="647.84" y2="171.29" stroke="#ff0000" stroke-width="1" />
<line x1="650.76" y1="163.53" x2="650.76" y2="172.71" stroke="#ff0000" stroke-width="1" />
<line x1="653.68" y1="159.65" x2="653.68" y2="167.63" stroke="#ff0000" stroke-width="1" />
<line x1="656.6" y1="161.47" x2="656.6" y2="169.98" stroke="#ff0000" stroke-width="1" />
<line x1="659.52" y1="160.53" x2="659.52" y2="168.76" stroke="#ff0000" stroke-width="1" />
<line x1="662.44" y1="165.92" x2="662.44" y2="175.95" stroke="#ff0000" stroke-width="1" />
<line x1="665.36" y1="168.76" x2="665.36" y2="179.93" stroke="#ff0000" stroke-width="1" />
<line x1="668.28" y1="164.68" x2="668.28" y2="174.25" stroke="#ff0000" stroke-width="1" />
<line x1="671.2" y1="160.53" x2="671.2" y2="168.76" stroke="#ff0000" stroke-width="1" />
<line x1="674.12" y1="165.92" x2="674.12" y2="175.95" stroke="#ff0000" stroke-width="1" />
<line x1="501.84" y1="109.49" x2="501.84" y2="111" stroke="#0000ff" stroke-width="1" />
<line x1="504.76" y1="111.44" x2="504.76" y2="113.05" stroke="#0000ff" stroke-width="1" />
<line x1="507.68" y1="111.17" x2="507.68" y2="112.76" stroke="#0000ff" stroke-width="1" />
<line x1="510.6" y1="113.09" x2="510.6" y2="114.79" stroke="#0000ff" stroke-width="1" />
<line x1="513.52" y1="113.8" x2="513.52" y2="115.54" stroke="#0000ff" stroke-width="1" />
<line x1="516.44" y1="115.43" x2="516.44" y2="117.26" stroke="#0000ff" stroke-width="1" />
<line x1="519.36" y1="115.94" x2="519.36" y2="117.8" stroke="#0000ff" stroke-width="1" />
<line x1="522.28" y1="117.76" x2="522.28" y2="119.73" stroke="#0000ff" stroke-width="1" />
<line x1="525.2" y1="119.1" x2="525.2" y2="121.16" stroke="#0000ff" stroke-width="1" />
<line x1="528.12" y1="118.66" x2="528.12" y2="120.69" stroke="#0000ff" stroke-width="1" />
<line x1="531.04" y1="121.5" x2="531.04" y2="123.72" stroke="#0000ff" stroke-width="1" />
<line x1="533.96" y1="122.49" x2="533.96" y2="124.78" stroke="#0000ff" stroke-width="1" />
<line x1="536.88" y1="123.72" x2="536.88" y2="126.1" stroke="#0000ff" stroke-width="1" />
<line x1="539.8" y1="122.25" x2="539.8" y2="124.53" stroke="#0000ff" stroke-width="1" />
<line x1="542.72" y1="125.9" x2="542.72" y2="128.46" stroke="#0000ff" stroke-width="1" />
<line x1="545.64" y1="126.7" x2="545.64" y2="129.33" stroke="#0000ff" stroke-width="1" />
<line x1="548.56" y1="126.8" x2="548.56" y2="129.44" stroke="#0000ff" stroke-width="1" />
<line x1="551.48" y1="127.98" x2="551.48" y2="130.72" stroke="#0000ff" stroke-width="1" />
<line x1="554.4" y1="126.5" x2="554.4" y2="129.11" stroke="#0000ff" stroke-width="1" />
<line x1="557.32" y1="127.76" x2="557.32" y2="130.48" stroke="#0000ff" stroke-width="1" />
<line x1="560.24" y1="128.9" x2="560.24" y2="131.72" stroke="#0000ff" stroke-width="1" />
<line x1="563.16" y1="129.38" x2="563.16" y2="132.25" stroke="#0000ff" stroke-width="1" />
<line x1="566.08" y1="132.02" x2="566.08" y2="135.15" stroke="#0000ff" stroke-width="1" />
<line x1="569" y1="132.02" x2="569" y2="135.15" stroke="#0000ff" stroke-width="1" />
<line x1="571.92" y1="135.2" x2="571.92" y2="138.67" stroke="#0000ff" stroke-width="1" />
<line x1="574.84" y1="132.76" x2="574.84" y2="135.96" stroke="#0000ff" stroke-width="1" />
<line x1="577.76" y1="136.49" x2="577.76" y2="140.11" stroke="#0000ff" stroke-width="1" />
<line x1="580.68" y1="135.38" x2="580.68" y2="138.87" stroke="#0000ff" stroke-width="1" />
<line x1="583.6" y1="135.74" x2="583.6" y2="139.27" stroke="#0000ff" stroke-width="1" />
<line x1="586.52" y1="135.56" x2="586.52" y2="139.07" stroke="#0000ff" stroke-width="1" />
<line x1="589.44" y1="136.49" x2="589.44" y2="140.11" stroke="#0000ff" stroke-width="1" />
<line x1="592.36" y1="141.39" x2="592.36" y2="145.65" stroke="#0000ff" stroke-width="1" />
<line x1="595.28" y1="139.2" x2="595.28" y2="143.15" stroke="#0000ff" stroke-width="1" />
<line x1="598.2" y1="145.57" x2="598.2" y2="150.46" stroke="#0000ff" stroke-width="1" />
<line x1="601.12" y1="145.23" x2="601.12" y2="150.07" stroke="#0000ff" stroke-width="1" />
<line x1="604.04" y1="144.25" x2="604.04" y2="148.94" stroke="#0000ff" stroke-width="1" />
<line x1="606.96" y1="147" x2="606.96" y2="152.14" stroke="#0000ff" stroke-width="1" />
<line x1="609.88" y1="147.38" x2="609.88" y2="152.58" stroke="#0000ff" stroke-width="1" />
<line x1="612.8" y1="147" x2="612.8" y2="152.14" stroke="#0000ff" stroke-width="1" />
<line x1="615.72" y1="147.77" x2="615.72" y2="153.04" stroke="#0000ff" stroke-width="1" />
<line x1="618.64" y1="146.27" x2="618.64" y2="151.28" stroke="#0000ff" stroke-width="1" />
<line x1="621.56" y1="154" x2="621.56" y2="160.53" stroke="#0000ff" stroke-width="1" />
<line x1="624.48" y1="151.3" x2="624.48" y2="157.25" stroke="#0000ff" stroke-width="1" />
<line x1="627.4" y1="153.42" x2="627.4" y2="159.82" stroke="#0000ff" stroke-width="1" />
<line x1="630.32" y1="150.81" x2="630.32" y2="156.66" stroke="#0000ff" stroke-width="1" />
<line x1="633.24" y1="154" x2="633.24" y2="160.53" stroke="#0000ff" stroke-width="1" />
<line x1="636.16" y1="156.57" x2="636.16" y2="163.71" stroke="#0000ff" stroke-width="1" />
<line x1="639.08" y1="157.28" x2="639.08" y2="164.61" stroke="#0000ff" stroke-width="1" />
<line x1="642" y1="151.3" x2="642" y2="157.25" stroke="#0000ff" stroke-width="1" />
<line x1="644.92" y1="154" x2="644.92" y2="160.53" stroke="#0000ff" stroke-width="1" />
<line x1="647.84" y1="158.03" x2="647.84" y2="165.56" stroke="#0000ff" stroke-width="1" />
<line x1="650.76" y1="158.82" x2="650.76" y2="166.56" stroke="#0000ff" stroke-width="1" />
<line x1="653.68" y1="160.53" x2="653.68" y2="168.76" stroke="#0000ff" stroke-width="1" />
<line x1="656.6" y1="164.68" x2="656.6" y2="174.25" stroke="#0000ff" stroke-width="1" />
<line x1="659.52" y1="159.65" x2="659.52" y2="167.63" stroke="#0000ff" stroke-width="1" />
<line x1="662.44" y1="158.82" x2="662.44" y2="166.56" stroke="#0000ff" stroke-width="1" />
<line x1="665.36" y1="165.92" x2="665.36" y2="175.95" stroke="#0000ff" stroke-width="1" />
<line x1="668.28" y1="162.46" x2="668.28" y2="171.29" stroke="#0000ff" stroke-width="1" />
<line x1="671.2" y1="164.68" x2="671.2" y2="174.25" stroke="#0000ff" stroke-width="1" />
<line x1="674.12" y1="170.42" x2="674.12" y2="182.33" stroke="#0000ff" stroke-width="1" />
<line x1="677.04" y1="168.76" x2="677.04" y2="179.93" stroke="#0000ff" stroke-width="1" />
</g>
<line x1="386.5" y1="0.5" x2="678.5" y2="0.5" stroke="#808080" stroke-width="1" />
<line x1="678.5" y1="0" x2="678.5" y2="160" stroke="#808080" stroke-width="1" />
<line x1="386.5" y1="0" x2="386.5" y2="160.5" stroke="#000000" stroke-width="1" />
<line x1="678.5" y1="160" x2="678.5" y2="212.8" stroke="#808080" stroke-width="1" />
<line x1="386.5" y1="160" x2="386.5" y2="212.8" stroke="#000000" stroke-width="1" />
<line x1="386" y1="212.3" x2="679" y2="212.3" stroke="#000000" stroke-width="1" />
<line x1="386.5" y1="159.75" x2="392.1" y2="159.75" stroke="#000000" stroke-width="0.8" />
<line x1="386.5" y1="157.6" x2="392.1" y2="157.6" stroke="#000000" stroke-width="0.8" />
<line x1="386.5" y1="155.7" x2="392.1" y2="155.7" stroke="#000000" stroke-width="0.8" />
<line x1="386.5" y1="154" x2="397.3" y2="154" stroke="#000000" stroke-width="0.8" />
<line x1="386.5" y1="142.83" x2="392.1" y2="142.83" stroke="#000000" stroke-width="0.8" />
<line x1="386.5" y1="136.3" x2="392.1" y2="136.3" stroke="#000000" stroke-width="0.8" />
<line x1="386.5" y1="131.66" x2="392.1" y2="131.66" stroke="#000000" stroke-width="0.8" />
<line x1="386.5" y1="128.07" x2="392.1" y2="128.07" stroke="#000000" stroke-width="0.8" />
<line x1="386.5" y1="125.13" x2="392.1" y2="125.13" stroke="#000000" stroke-width="0.8" />
<line x1="386.5" y1="122.65" x2="392.1" y2="122.65" stroke="#000000" stroke-width="0.8" />
<line x1="386.5" y1="120.5" x2="392.1" y2="120.5" stroke="#000000" stroke-width="0.8" />
<line x1="386.5" y1="118.6" x2="392.1" y2="118.6" stroke="#000000" stroke-width="0.8" />
<line x1="386.5" y1="116.9" x2="397.3" y2="116.9" stroke="#000000" stroke-width="0.8" />
<line x1="386.5" y1="105.73" x2="392.1" y2="105.73" stroke="#000000" stroke-width="0.8" />
<line x1="386.5" y1="99.2" x2="392.1" y2="99.2" stroke="#000000" stroke-width="0.8" />
<line x1="386.5" y1="94.56" x2="392.1" y2="94.56" stroke="#000000" stroke-width="0.8" />
<line x1="386.5" y1="90.97" x2="392.1" y2="90.97" stroke="#000000" stroke-width="0.8" />
<line x1="386.5" y1="88.03" x2="392.1" y2="88.03" stroke="#000000" stroke-width="0.8" />
<line x1="386.5" y1="85.55" x2="392.1" y2="85.55" stroke="#000000" stroke-width="0.8" />
<line x1="386.5" y1="83.4" x2="392.1" y2="83.4" stroke="#000000" stroke-width="0.8" />
<line x1="386.5" y1="81.5" x2="392.1" y2="81.5" stroke="#000000" stroke-width="0.8" />
<line x1="386.5" y1="79.8" x2="397.3" y2="79.8" stroke="#000000" stroke-width="0.8" />
<line x1="386.5" y1="68.63" x2="392.1" y2="68.63" stroke="#000000" stroke-width="0.8" />
<line x1="386.5" y1="62.1" x2="392.1" y2="62.1" stroke="#000000" stroke-width="0.8" />
<line x1="386.5" y1="57.46" x2="392.1" y2="57.46" stroke="#000000" stroke-width="0.8" />
<line x1="386.5" y1="53.87" x2="392.1" y2="53.87" stroke="#000000" stroke-width="0.8" />
<line x1="386.5" y1="50.93" x2="392.1" y2="50.93" stroke="#000000" stroke-width="0.8" />
<line x1="386.5" y1="48.45" x2="392.1" y2="48.45" stroke="#000000" stroke-width="0.8" />
<line x1="386.5" y1="46.3" x2="392.1" y2="46.3" stroke="#000000" stroke-width="0.8" />
<line x1="386.5" y1="44.4" x2="392.1" y2="44.4" stroke="#000000" stroke-width="0.8" />
<line x1="386.5" y1="42.7" x2="397.3" y2="42.7" stroke="#000000" stroke-width="0.8" />
<line x1="386.5" y1="31.53" x2="392.1" y2="31.53" stroke="#000000" stroke-width="0.8" />
<line x1="386.5" y1="25" x2="392.1" y2="25" stroke="#000000" stroke-width="0.8" />
<line x1="386.5" y1="20.36" x2="392.1" y2="20.36" stroke="#000000" stroke-width="0.8" />
<line x1="386.5" y1="16.77" x2="392.1" y2="16.77" stroke="#000000" stroke-width="0.8" />
<line x1="386.5" y1="13.83" x2="392.1" y2="13.83" stroke="#000000" stroke-width="0.8" />
<line x1="386.5" y1="11.35" x2="392.1" y2="11.35" stroke="#000000" stroke-width="0.8" />
<line x1="386.5" y1="9.2" x2="392.1" y2="9.2" stroke="#000000" stroke-width="0.8" />
<line x1="386.5" y1="7.3" x2="392.1" y2="7.3" stroke="#000000" stroke-width="0.8" />
<line x1="386.5" y1="5.6" x2="397.3" y2="5.6" stroke="#000000" stroke-width="0.8" />
<line x1="386.5" y1="160" x2="386.5" y2="156" stroke="#333" stroke-width="0.75" />
<line x1="386.5" y1="212.3" x2="386.5" y2="209.9" stroke="#333" stroke-width="0.75" />
<line x1="394.84" y1="160" x2="394.84" y2="157.5" stroke="#333" stroke-width="0.75" />
<line x1="394.84" y1="212.3" x2="394.84" y2="210.8" stroke="#333" stroke-width="0.75" />
<line x1="403.19" y1="160" x2="403.19" y2="157.5" stroke="#333" stroke-width="0.75" />
<line x1="403.19" y1="212.3" x2="403.19" y2="210.8" stroke="#333" stroke-width="0.75" />
<line x1="411.53" y1="160" x2="411.53" y2="157.5" stroke="#333" stroke-width="0.75" />
<line x1="411.53" y1="212.3" x2="411.53" y2="210.8" stroke="#333" stroke-width="0.75" />
<line x1="419.87" y1="160" x2="419.87" y2="157.5" stroke="#333" stroke-width="0.75" />
<line x1="419.87" y1="212.3" x2="419.87" y2="210.8" stroke="#333" stroke-width="0.75" />
<line x1="428.21" y1="160" x2="428.21" y2="156" stroke="#333" stroke-width="0.75" />
<line x1="428.21" y1="212.3" x2="428.21" y2="209.9" stroke="#333" stroke-width="0.75" />
<line x1="436.56" y1="160" x2="436.56" y2="157.5" stroke="#333" stroke-width="0.75" />
<line x1="436.56" y1="212.3" x2="436.56" y2="210.8" stroke="#333" stroke-width="0.75" />
<line x1="444.9" y1="160" x2="444.9" y2="157.5" stroke="#333" stroke-width="0.75" />
<line x1="444.9" y1="212.3" x2="444.9" y2="210.8" stroke="#333" stroke-width="0.75" />
<line x1="453.24" y1="160" x2="453.24" y2="157.5" stroke="#333" stroke-width="0.75" />
<line x1="453.24" y1="212.3" x2="453.24" y2="210.8" stroke="#333" stroke-width="0.75" />
<line x1="461.59" y1="160" x2="461.59" y2="157.5" stroke="#333" stroke-width="0.75" />
<line x1="461.59" y1="212.3" x2="461.59" y2="210.8" stroke="#333" stroke-width="0.75" />
<line x1="469.93" y1="160" x2="469.93" y2="156" stroke="#333" stroke-width="0.75" />
<line x1="469.93" y1="212.3" x2="469.93" y2="209.9" stroke="#333" stroke-width="0.75" />
<line x1="478.27" y1="160" x2="478.27" y2="157.5" stroke="#333" stroke-width="0.75" />
<line x1="478.27" y1="212.3" x2="478.27" y2="210.8" stroke="#333" stroke-width="0.75" />
<line x1="486.61" y1="160" x2="486.61" y2="157.5" stroke="#333" stroke-width="0.75" />
<line x1="486.61" y1="212.3" x2="486.61" y2="210.8" stroke="#333" stroke-width="0.75" />
<line x1="494.96" y1="160" x2="494.96" y2="157.5" stroke="#333" stroke-width="0.75" />
<line x1="494.96" y1="212.3" x2="494.96" y2="210.8" stroke="#333" stroke-width="0.75" />
<line x1="503.3" y1="160" x2="503.3" y2="157.5" stroke="#333" stroke-width="0.75" />
<line x1="503.3" y1="212.3" x2="503.3" y2="210.8" stroke="#333" stroke-width="0.75" />
<line x1="511.64" y1="160" x2="511.64" y2="156" stroke="#333" stroke-width="0.75" />
<line x1="511.64" y1="212.3" x2="511.64" y2="209.9" stroke="#333" stroke-width="0.75" />
<line x1="519.99" y1="160" x2="519.99" y2="157.5" stroke="#333" stroke-width="0.75" />
<line x1="519.99" y1="212.3" x2="519.99" y2="210.8" stroke="#333" stroke-width="0.75" />
<line x1="528.33" y1="160" x2="528.33" y2="157.5" stroke="#333" stroke-width="0.75" />
<line x1="528.33" y1="212.3" x2="528.33" y2="210.8" stroke="#333" stroke-width="0.75" />
<line x1="536.67" y1="160" x2="536.67" y2="157.5" stroke="#333" stroke-width="0.75" />
<line x1="536.67" y1="212.3" x2="536.67" y2="210.8" stroke="#333" stroke-width="0.75" />
<line x1="545.01" y1="160" x2="545.01" y2="157.5" stroke="#333" stroke-width="0.75" />
<line x1="545.01" y1="212.3" x2="545.01" y2="210.8" stroke="#333" stroke-width="0.75" />
<line x1="553.36" y1="160" x2="553.36" y2="156" stroke="#333" stroke-width="0.75" />
<line x1="553.36" y1="212.3" x2="553.36" y2="209.9" stroke="#333" stroke-width="0.75" />
<line x1="561.7" y1="160" x2="561.7" y2="157.5" stroke="#333" stroke-width="0.75" />
<line x1="561.7" y1="212.3" x2="561.7" y2="210.8" stroke="#333" stroke-width="0.75" />
<line x1="570.04" y1="160" x2="570.04" y2="157.5" stroke="#333" stroke-width="0.75" />
<line x1="570.04" y1="212.3" x2="570.04" y2="210.8" stroke="#333" stroke-width="0.75" />
<line x1="578.39" y1="160" x2="578.39" y2="157.5" stroke="#333" stroke-width="0.75" />
<line x1="578.39" y1="212.3" x2="578.39" y2="210.8" stroke="#333" stroke-width="0.75" />
<line x1="586.73" y1="160" x2="586.73" y2="157.5" stroke="#333" stroke-width="0.75" />
<line x1="586.73" y1="212.3" x2="586.73" y2="210.8" stroke="#333" stroke-width="0.75" />
<line x1="595.07" y1="160" x2="595.07" y2="156" stroke="#333" stroke-width="0.75" />
<line x1="595.07" y1="212.3" x2="595.07" y2="209.9" stroke="#333" stroke-width="0.75" />
<line x1="603.41" y1="160" x2="603.41" y2="157.5" stroke="#333" stroke-width="0.75" />
<line x1="603.41" y1="212.3" x2="603.41" y2="210.8" stroke="#333" stroke-width="0.75" />
<line x1="611.76" y1="160" x2="611.76" y2="157.5" stroke="#333" stroke-width="0.75" />
<line x1="611.76" y1="212.3" x2="611.76" y2="210.8" stroke="#333" stroke-width="0.75" />
<line x1="620.1" y1="160" x2="620.1" y2="157.5" stroke="#333" stroke-width="0.75" />
<line x1="620.1" y1="212.3" x2="620.1" y2="210.8" stroke="#333" stroke-width="0.75" />
<line x1="628.44" y1="160" x2="628.44" y2="157.5" stroke="#333" stroke-width="0.75" />
<line x1="628.44" y1="212.3" x2="628.44" y2="210.8" stroke="#333" stroke-width="0.75" />
<line x1="636.79" y1="160" x2="636.79" y2="156" stroke="#333" stroke-width="0.75" />
<line x1="636.79" y1="212.3" x2="636.79" y2="209.9" stroke="#333" stroke-width="0.75" />
<line x1="645.13" y1="160" x2="645.13" y2="157.5" stroke="#333" stroke-width="0.75" />
<line x1="645.13" y1="212.3" x2="645.13" y2="210.8" stroke="#333" stroke-width="0.75" />
<line x1="653.47" y1="160" x2="653.47" y2="157.5" stroke="#333" stroke-width="0.75" />
<line x1="653.47" y1="212.3" x2="653.47" y2="210.8" stroke="#333" stroke-width="0.75" />
<line x1="661.81" y1="160" x2="661.81" y2="157.5" stroke="#333" stroke-width="0.75" />
<line x1="661.81" y1="212.3" x2="661.81" y2="210.8" stroke="#333" stroke-width="0.75" />
<line x1="670.16" y1="160" x2="670.16" y2="157.5" stroke="#333" stroke-width="0.75" />
<line x1="670.16" y1="212.3" x2="670.16" y2="210.8" stroke="#333" stroke-width="0.75" />
<line x1="678.5" y1="160" x2="678.5" y2="156" stroke="#333" stroke-width="0.75" />
<line x1="678.5" y1="212.3" x2="678.5" y2="209.9" stroke="#333" stroke-width="0.75" />
<line x1="386" y1="160.3" x2="679" y2="160.3" stroke="#333" stroke-width="1" />
<line x1="386.5" y1="164.5" x2="393.9" y2="164.5" stroke="#999" stroke-width="0.9" />
<line x1="386.5" y1="207.5" x2="393.9" y2="207.5" stroke="#999" stroke-width="0.9" />
<line x1="386.5" y1="186.5" x2="395.7" y2="186.5" stroke="#333" stroke-width="1" />
<g clip-path="url(#cl2)">
<line x1="386" y1="186.5" x2="679" y2="186.5" stroke="#111" stroke-width="1" stroke-dasharray="2.3,1.5" stroke-dashoffset="-0.2"/>
<line x1="386.5" y1="189.63" x2="389.42" y2="189.63" stroke="#ff0000" stroke-width="1.2" />
<line x1="389.42" y1="188.66" x2="392.34" y2="188.66" stroke="#ff0000" stroke-width="1.2" />
<line x1="392.34" y1="187.98" x2="395.26" y2="187.98" stroke="#ff0000" stroke-width="1.2" />
<line x1="395.26" y1="187.15" x2="398.18" y2="187.15" stroke="#ff0000" stroke-width="1.2" />
<line x1="398.18" y1="186.31" x2="401.1" y2="186.31" stroke="#ff0000" stroke-width="1.2" />
<line x1="401.1" y1="185.64" x2="404.02" y2="185.64" stroke="#ff0000" stroke-width="1.2" />
<line x1="404.02" y1="184.82" x2="406.94" y2="184.82" stroke="#ff0000" stroke-width="1.2" />
<line x1="406.94" y1="184.39" x2="409.86" y2="184.39" stroke="#ff0000" stroke-width="1.2" />
<line x1="409.86" y1="183.48" x2="412.78" y2="183.48" stroke="#ff0000" stroke-width="1.2" />
<line x1="412.78" y1="183.17" x2="415.7" y2="183.17" stroke="#ff0000" stroke-width="1.2" />
<line x1="415.7" y1="183.1" x2="418.62" y2="183.1" stroke="#ff0000" stroke-width="1.2" />
<line x1="418.62" y1="183" x2="421.54" y2="183" stroke="#ff0000" stroke-width="1.2" />
<line x1="421.54" y1="182.98" x2="424.46" y2="182.98" stroke="#ff0000" stroke-width="1.2" />
<line x1="424.46" y1="182.44" x2="427.38" y2="182.44" stroke="#ff0000" stroke-width="1.2" />
<line x1="427.38" y1="182.98" x2="430.3" y2="182.98" stroke="#ff0000" stroke-width="1.2" />
<line x1="430.3" y1="182.25" x2="433.22" y2="182.25" stroke="#ff0000" stroke-width="1.2" />
<line x1="433.22" y1="182.09" x2="436.14" y2="182.09" stroke="#ff0000" stroke-width="1.2" />
<line x1="436.14" y1="182.57" x2="439.06" y2="182.57" stroke="#ff0000" stroke-width="1.2" />
<line x1="439.06" y1="181.75" x2="441.98" y2="181.75" stroke="#ff0000" stroke-width="1.2" />
<line x1="441.98" y1="182.25" x2="444.9" y2="182.25" stroke="#ff0000" stroke-width="1.2" />
<line x1="444.9" y1="182.45" x2="447.82" y2="182.45" stroke="#ff0000" stroke-width="1.2" />
<line x1="447.82" y1="182.85" x2="450.74" y2="182.85" stroke="#ff0000" stroke-width="1.2" />
<line x1="450.74" y1="181.7" x2="453.66" y2="181.7" stroke="#ff0000" stroke-width="1.2" />
<line x1="453.66" y1="182" x2="456.58" y2="182" stroke="#ff0000" stroke-width="1.2" />
<line x1="456.58" y1="181.54" x2="459.5" y2="181.54" stroke="#ff0000" stroke-width="1.2" />
<line x1="458.04" y1="180.53" x2="458.04" y2="182.55" stroke="#ff0000" stroke-width="1.2" />
<line x1="459.5" y1="181.29" x2="462.42" y2="181.29" stroke="#ff0000" stroke-width="1.2" />
<line x1="460.96" y1="180.23" x2="460.96" y2="182.35" stroke="#ff0000" stroke-width="1.2" />
<line x1="462.42" y1="179.96" x2="465.34" y2="179.96" stroke="#ff0000" stroke-width="1.2" />
<line x1="463.88" y1="178.79" x2="463.88" y2="181.13" stroke="#ff0000" stroke-width="1.2" />
<line x1="465.34" y1="180.17" x2="468.26" y2="180.17" stroke="#ff0000" stroke-width="1.2" />
<line x1="466.8" y1="178.96" x2="466.8" y2="181.37" stroke="#ff0000" stroke-width="1.2" />
<line x1="468.26" y1="182.58" x2="471.18" y2="182.58" stroke="#ff0000" stroke-width="1.2" />
<line x1="469.72" y1="181.43" x2="469.72" y2="183.73" stroke="#ff0000" stroke-width="1.2" />
<line x1="471.18" y1="180.69" x2="474.1" y2="180.69" stroke="#ff0000" stroke-width="1.2" />
<line x1="472.64" y1="179.43" x2="472.64" y2="181.96" stroke="#ff0000" stroke-width="1.2" />
<line x1="474.1" y1="181.52" x2="477.02" y2="181.52" stroke="#ff0000" stroke-width="1.2" />
<line x1="475.56" y1="180.24" x2="475.56" y2="182.81" stroke="#ff0000" stroke-width="1.2" />
<line x1="477.02" y1="179.95" x2="479.94" y2="179.95" stroke="#ff0000" stroke-width="1.2" />
<line x1="478.48" y1="178.52" x2="478.48" y2="181.37" stroke="#ff0000" stroke-width="1.2" />
<line x1="479.94" y1="179.73" x2="482.86" y2="179.73" stroke="#ff0000" stroke-width="1.2" />
<line x1="481.4" y1="178.2" x2="481.4" y2="181.25" stroke="#ff0000" stroke-width="1.2" />
<line x1="482.86" y1="182.45" x2="485.78" y2="182.45" stroke="#ff0000" stroke-width="1.2" />
<line x1="484.32" y1="181.08" x2="484.32" y2="183.83" stroke="#ff0000" stroke-width="1.2" />
<line x1="485.78" y1="181.55" x2="488.7" y2="181.55" stroke="#ff0000" stroke-width="1.2" />
<line x1="487.24" y1="180.02" x2="487.24" y2="183.09" stroke="#ff0000" stroke-width="1.2" />
<line x1="488.7" y1="183.43" x2="491.62" y2="183.43" stroke="#ff0000" stroke-width="1.2" />
<line x1="490.16" y1="182" x2="490.16" y2="184.85" stroke="#ff0000" stroke-width="1.2" />
<line x1="491.62" y1="180.91" x2="494.54" y2="180.91" stroke="#ff0000" stroke-width="1.2" />
<line x1="493.08" y1="179.24" x2="493.08" y2="182.57" stroke="#ff0000" stroke-width="1.2" />
<line x1="494.54" y1="181.65" x2="497.46" y2="181.65" stroke="#ff0000" stroke-width="1.2" />
<line x1="496" y1="179.98" x2="496" y2="183.31" stroke="#ff0000" stroke-width="1.2" />
<line x1="497.46" y1="179.68" x2="500.38" y2="179.68" stroke="#ff0000" stroke-width="1.2" />
<line x1="498.92" y1="177.82" x2="498.92" y2="181.54" stroke="#ff0000" stroke-width="1.2" />
<line x1="500.38" y1="184.7" x2="503.3" y2="184.7" stroke="#ff0000" stroke-width="1.2" />
<line x1="501.84" y1="183.16" x2="501.84" y2="186.24" stroke="#ff0000" stroke-width="1.2" />
<line x1="503.3" y1="183" x2="506.22" y2="183" stroke="#ff0000" stroke-width="1.2" />
<line x1="504.76" y1="181.26" x2="504.76" y2="184.75" stroke="#ff0000" stroke-width="1.2" />
<line x1="506.22" y1="184.46" x2="509.14" y2="184.46" stroke="#ff0000" stroke-width="1.2" />
<line x1="507.68" y1="182.73" x2="507.68" y2="186.18" stroke="#ff0000" stroke-width="1.2" />
<line x1="509.14" y1="184.16" x2="512.06" y2="184.16" stroke="#ff0000" stroke-width="1.2" />
<line x1="510.6" y1="182.3" x2="510.6" y2="186.02" stroke="#ff0000" stroke-width="1.2" />
<line x1="512.06" y1="184.42" x2="514.98" y2="184.42" stroke="#ff0000" stroke-width="1.2" />
<line x1="513.52" y1="182.6" x2="513.52" y2="186.24" stroke="#ff0000" stroke-width="1.2" />
<line x1="514.98" y1="181.75" x2="517.9" y2="181.75" stroke="#ff0000" stroke-width="1.2" />
<line x1="516.44" y1="179.61" x2="516.44" y2="183.88" stroke="#ff0000" stroke-width="1.2" />
<line x1="517.9" y1="184.2" x2="520.82" y2="184.2" stroke="#ff0000" stroke-width="1.2" />
<line x1="519.36" y1="182.11" x2="519.36" y2="186.3" stroke="#ff0000" stroke-width="1.2" />
<line x1="520.82" y1="178.67" x2="523.74" y2="178.67" stroke="#ff0000" stroke-width="1.2" />
<line x1="522.28" y1="176.03" x2="522.28" y2="181.32" stroke="#ff0000" stroke-width="1.2" />
<line x1="523.74" y1="180.16" x2="526.66" y2="180.16" stroke="#ff0000" stroke-width="1.2" />
<line x1="525.2" y1="177.65" x2="525.2" y2="182.66" stroke="#ff0000" stroke-width="1.2" />
<line x1="526.66" y1="179.22" x2="529.58" y2="179.22" stroke="#ff0000" stroke-width="1.2" />
<line x1="528.12" y1="176.52" x2="528.12" y2="181.93" stroke="#ff0000" stroke-width="1.2" />
<line x1="529.58" y1="182.81" x2="532.5" y2="182.81" stroke="#ff0000" stroke-width="1.2" />
<line x1="531.04" y1="180.39" x2="531.04" y2="185.23" stroke="#ff0000" stroke-width="1.2" />
<line x1="532.5" y1="184.14" x2="535.42" y2="184.14" stroke="#ff0000" stroke-width="1.2" />
<line x1="533.96" y1="181.75" x2="533.96" y2="186.53" stroke="#ff0000" stroke-width="1.2" />
<line x1="535.42" y1="183.63" x2="538.34" y2="183.63" stroke="#ff0000" stroke-width="1.2" />
<line x1="536.88" y1="181.12" x2="536.88" y2="186.15" stroke="#ff0000" stroke-width="1.2" />
<line x1="538.34" y1="184.37" x2="541.26" y2="184.37" stroke="#ff0000" stroke-width="1.2" />
<line x1="539.8" y1="182" x2="539.8" y2="186.74" stroke="#ff0000" stroke-width="1.2" />
<line x1="541.26" y1="182.66" x2="544.18" y2="182.66" stroke="#ff0000" stroke-width="1.2" />
<line x1="542.72" y1="179.86" x2="542.72" y2="185.45" stroke="#ff0000" stroke-width="1.2" />
<line x1="544.18" y1="183.99" x2="547.1" y2="183.99" stroke="#ff0000" stroke-width="1.2" />
<line x1="545.64" y1="181.32" x2="545.64" y2="186.66" stroke="#ff0000" stroke-width="1.2" />
<line x1="547.1" y1="184.54" x2="550.02" y2="184.54" stroke="#ff0000" stroke-width="1.2" />
<line x1="548.56" y1="181.76" x2="548.56" y2="187.32" stroke="#ff0000" stroke-width="1.2" />
<line x1="550.02" y1="182.78" x2="552.94" y2="182.78" stroke="#ff0000" stroke-width="1.2" />
<line x1="551.48" y1="179.78" x2="551.48" y2="185.79" stroke="#ff0000" stroke-width="1.2" />
<line x1="552.94" y1="185.5" x2="555.86" y2="185.5" stroke="#ff0000" stroke-width="1.2" />
<line x1="554.4" y1="182.77" x2="554.4" y2="188.23" stroke="#ff0000" stroke-width="1.2" />
<line x1="555.86" y1="183.76" x2="558.78" y2="183.76" stroke="#ff0000" stroke-width="1.2" />
<line x1="557.32" y1="180.69" x2="557.32" y2="186.82" stroke="#ff0000" stroke-width="1.2" />
<line x1="558.78" y1="189.22" x2="561.7" y2="189.22" stroke="#ff0000" stroke-width="1.2" />
<line x1="560.24" y1="186.81" x2="560.24" y2="191.62" stroke="#ff0000" stroke-width="1.2" />
<line x1="561.7" y1="182.63" x2="564.62" y2="182.63" stroke="#ff0000" stroke-width="1.2" />
<line x1="563.16" y1="179.27" x2="563.16" y2="186" stroke="#ff0000" stroke-width="1.2" />
<line x1="564.62" y1="181.49" x2="567.54" y2="181.49" stroke="#ff0000" stroke-width="1.2" />
<line x1="566.08" y1="177.87" x2="566.08" y2="185.1" stroke="#ff0000" stroke-width="1.2" />
<line x1="567.54" y1="185.41" x2="570.46" y2="185.41" stroke="#ff0000" stroke-width="1.2" />
<line x1="569" y1="182.43" x2="569" y2="188.39" stroke="#ff0000" stroke-width="1.2" />
<line x1="570.46" y1="187.15" x2="573.38" y2="187.15" stroke="#ff0000" stroke-width="1.2" />
<line x1="571.92" y1="184.12" x2="571.92" y2="190.19" stroke="#ff0000" stroke-width="1.2" />
<line x1="573.38" y1="186.88" x2="576.3" y2="186.88" stroke="#ff0000" stroke-width="1.2" />
<line x1="574.84" y1="183.88" x2="574.84" y2="189.88" stroke="#ff0000" stroke-width="1.2" />
<line x1="576.3" y1="185.44" x2="579.22" y2="185.44" stroke="#ff0000" stroke-width="1.2" />
<line x1="577.76" y1="181.88" x2="577.76" y2="189" stroke="#ff0000" stroke-width="1.2" />
<line x1="579.22" y1="179.9" x2="582.14" y2="179.9" stroke="#ff0000" stroke-width="1.2" />
<line x1="580.68" y1="175.5" x2="580.68" y2="184.29" stroke="#ff0000" stroke-width="1.2" />
<line x1="582.14" y1="182.24" x2="585.06" y2="182.24" stroke="#ff0000" stroke-width="1.2" />
<line x1="583.6" y1="178.25" x2="583.6" y2="186.24" stroke="#ff0000" stroke-width="1.2" />
<line x1="585.06" y1="178.21" x2="587.98" y2="178.21" stroke="#ff0000" stroke-width="1.2" />
<line x1="586.52" y1="173.36" x2="586.52" y2="183.06" stroke="#ff0000" stroke-width="1.2" />
<line x1="587.98" y1="184.1" x2="590.9" y2="184.1" stroke="#ff0000" stroke-width="1.2" />
<line x1="589.44" y1="179.77" x2="589.44" y2="188.42" stroke="#ff0000" stroke-width="1.2" />
<line x1="590.9" y1="182.1" x2="593.82" y2="182.1" stroke="#ff0000" stroke-width="1.2" />
<line x1="592.36" y1="177.19" x2="592.36" y2="187.01" stroke="#ff0000" stroke-width="1.2" />
<line x1="593.82" y1="180.48" x2="596.74" y2="180.48" stroke="#ff0000" stroke-width="1.2" />
<line x1="595.28" y1="175.37" x2="595.28" y2="185.58" stroke="#ff0000" stroke-width="1.2" />
<line x1="596.74" y1="187.51" x2="599.66" y2="187.51" stroke="#ff0000" stroke-width="1.2" />
<line x1="598.2" y1="183.08" x2="598.2" y2="191.94" stroke="#ff0000" stroke-width="1.2" />
<line x1="599.66" y1="187.77" x2="602.58" y2="187.77" stroke="#ff0000" stroke-width="1.2" />
<line x1="601.12" y1="183.66" x2="601.12" y2="191.88" stroke="#ff0000" stroke-width="1.2" />
<line x1="602.58" y1="178.22" x2="605.5" y2="178.22" stroke="#ff0000" stroke-width="1.2" />
<line x1="604.04" y1="172.01" x2="604.04" y2="184.43" stroke="#ff0000" stroke-width="1.2" />
<line x1="605.5" y1="189.42" x2="608.42" y2="189.42" stroke="#ff0000" stroke-width="1.2" />
<line x1="606.96" y1="185.04" x2="606.96" y2="193.8" stroke="#ff0000" stroke-width="1.2" />
<line x1="608.42" y1="183.29" x2="611.34" y2="183.29" stroke="#ff0000" stroke-width="1.2" />
<line x1="609.88" y1="177.37" x2="609.88" y2="189.21" stroke="#ff0000" stroke-width="1.2" />
<line x1="611.34" y1="180.14" x2="614.26" y2="180.14" stroke="#ff0000" stroke-width="1.2" />
<line x1="612.8" y1="174.1" x2="612.8" y2="186.19" stroke="#ff0000" stroke-width="1.2" />
<line x1="614.26" y1="176.37" x2="617.18" y2="176.37" stroke="#ff0000" stroke-width="1.2" />
<line x1="615.72" y1="168.54" x2="615.72" y2="184.21" stroke="#ff0000" stroke-width="1.2" />
<line x1="617.18" y1="185.23" x2="620.1" y2="185.23" stroke="#ff0000" stroke-width="1.2" />
<line x1="618.64" y1="179.28" x2="618.64" y2="191.17" stroke="#ff0000" stroke-width="1.2" />
<line x1="620.1" y1="192.5" x2="623.02" y2="192.5" stroke="#ff0000" stroke-width="1.2" />
<line x1="621.56" y1="188.18" x2="621.56" y2="196.82" stroke="#ff0000" stroke-width="1.2" />
<line x1="623.02" y1="184.4" x2="625.94" y2="184.4" stroke="#ff0000" stroke-width="1.2" />
<line x1="624.48" y1="178.17" x2="624.48" y2="190.62" stroke="#ff0000" stroke-width="1.2" />
<line x1="625.94" y1="180.22" x2="628.86" y2="180.22" stroke="#ff0000" stroke-width="1.2" />
<line x1="627.4" y1="173.52" x2="627.4" y2="186.93" stroke="#ff0000" stroke-width="1.2" />
<line x1="628.86" y1="189.39" x2="631.78" y2="189.39" stroke="#ff0000" stroke-width="1.2" />
<line x1="630.32" y1="184.61" x2="630.32" y2="194.16" stroke="#ff0000" stroke-width="1.2" />
<line x1="631.78" y1="183.59" x2="634.7" y2="183.59" stroke="#ff0000" stroke-width="1.2" />
<line x1="633.24" y1="177.21" x2="633.24" y2="189.98" stroke="#ff0000" stroke-width="1.2" />
<line x1="634.7" y1="184.8" x2="637.62" y2="184.8" stroke="#ff0000" stroke-width="1.2" />
<line x1="636.16" y1="177.27" x2="636.16" y2="192.32" stroke="#ff0000" stroke-width="1.2" />
<line x1="637.62" y1="184.03" x2="640.54" y2="184.03" stroke="#ff0000" stroke-width="1.2" />
<line x1="639.08" y1="177.05" x2="639.08" y2="191.01" stroke="#ff0000" stroke-width="1.2" />
<line x1="640.54" y1="172.67" x2="643.46" y2="172.67" stroke="#ff0000" stroke-width="1.2" />
<line x1="642" y1="160.31" x2="642" y2="185.02" stroke="#ff0000" stroke-width="1.2" />
<line x1="643.46" y1="172.07" x2="646.38" y2="172.07" stroke="#ff0000" stroke-width="1.2" />
<line x1="644.92" y1="160.01" x2="644.92" y2="184.14" stroke="#ff0000" stroke-width="1.2" />
<line x1="646.38" y1="190.81" x2="649.3" y2="190.81" stroke="#ff0000" stroke-width="1.2" />
<line x1="647.84" y1="184.81" x2="647.84" y2="196.82" stroke="#ff0000" stroke-width="1.2" />
<line x1="649.3" y1="179.5" x2="652.22" y2="179.5" stroke="#ff0000" stroke-width="1.2" />
<line x1="650.76" y1="167.65" x2="650.76" y2="191.35" stroke="#ff0000" stroke-width="1.2" />
<line x1="652.22" y1="170.83" x2="655.14" y2="170.83" stroke="#ff0000" stroke-width="1.2" />
<line x1="653.68" y1="156.15" x2="653.68" y2="185.51" stroke="#ff0000" stroke-width="1.2" />
<line x1="655.14" y1="180.58" x2="658.06" y2="180.58" stroke="#ff0000" stroke-width="1.2" />
<line x1="656.6" y1="170.09" x2="656.6" y2="191.07" stroke="#ff0000" stroke-width="1.2" />
<line x1="658.06" y1="191.91" x2="660.98" y2="191.91" stroke="#ff0000" stroke-width="1.2" />
<line x1="659.52" y1="186.73" x2="659.52" y2="197.09" stroke="#ff0000" stroke-width="1.2" />
<line x1="660.98" y1="197.3" x2="663.9" y2="197.3" stroke="#ff0000" stroke-width="1.2" />
<line x1="662.44" y1="193.51" x2="662.44" y2="201.1" stroke="#ff0000" stroke-width="1.2" />
<line x1="663.9" y1="191.42" x2="666.82" y2="191.42" stroke="#ff0000" stroke-width="1.2" />
<line x1="665.36" y1="184.25" x2="665.36" y2="198.58" stroke="#ff0000" stroke-width="1.2" />
<line x1="666.82" y1="186" x2="669.74" y2="186" stroke="#ff0000" stroke-width="1.2" />
<line x1="668.28" y1="177.15" x2="668.28" y2="194.85" stroke="#ff0000" stroke-width="1.2" />
<line x1="669.74" y1="169.15" x2="672.66" y2="169.15" stroke="#ff0000" stroke-width="1.2" />
<line x1="671.2" y1="153.1" x2="671.2" y2="185.2" stroke="#ff0000" stroke-width="1.2" />
<line x1="672.66" y1="195.75" x2="675.58" y2="195.75" stroke="#ff0000" stroke-width="1.2" />
<line x1="674.12" y1="191.28" x2="674.12" y2="200.22" stroke="#ff0000" stroke-width="1.2" />
<line x1="675.58" y1="203.33" x2="678.5" y2="203.33" stroke="#ff0000" stroke-width="1.2" />
<line x1="677.04" y1="199.98" x2="677.04" y2="206.69" stroke="#ff0000" stroke-width="1.2" />
<line x1="386.5" y1="189.55" x2="389.42" y2="189.55" stroke="#0000ff" stroke-width="1.2" />
<line x1="389.42" y1="188.72" x2="392.34" y2="188.72" stroke="#0000ff" stroke-width="1.2" />
<line x1="392.34" y1="187.91" x2="395.26" y2="187.91" stroke="#0000ff" stroke-width="1.2" />
<line x1="395.26" y1="187.06" x2="398.18" y2="187.06" stroke="#0000ff" stroke-width="1.2" />
<line x1="398.18" y1="186.35" x2="401.1" y2="186.35" stroke="#0000ff" stroke-width="1.2" />
<line x1="401.1" y1="185.72" x2="404.02" y2="185.72" stroke="#0000ff" stroke-width="1.2" />
<line x1="404.02" y1="184.63" x2="406.94" y2="184.63" stroke="#0000ff" stroke-width="1.2" />
<line x1="406.94" y1="184.09" x2="409.86" y2="184.09" stroke="#0000ff" stroke-width="1.2" />
<line x1="409.86" y1="183.51" x2="412.78" y2="183.51" stroke="#0000ff" stroke-width="1.2" />
<line x1="412.78" y1="183.34" x2="415.7" y2="183.34" stroke="#0000ff" stroke-width="1.2" />
<line x1="415.7" y1="183.83" x2="418.62" y2="183.83" stroke="#0000ff" stroke-width="1.2" />
<line x1="418.62" y1="183.17" x2="421.54" y2="183.17" stroke="#0000ff" stroke-width="1.2" />
<line x1="421.54" y1="183.07" x2="424.46" y2="183.07" stroke="#0000ff" stroke-width="1.2" />
<line x1="424.46" y1="182.77" x2="427.38" y2="182.77" stroke="#0000ff" stroke-width="1.2" />
<line x1="427.38" y1="182.68" x2="430.3" y2="182.68" stroke="#0000ff" stroke-width="1.2" />
<line x1="430.3" y1="182.59" x2="433.22" y2="182.59" stroke="#0000ff" stroke-width="1.2" />
<line x1="433.22" y1="181.69" x2="436.14" y2="181.69" stroke="#0000ff" stroke-width="1.2" />
<line x1="436.14" y1="182.11" x2="439.06" y2="182.11" stroke="#0000ff" stroke-width="1.2" />
<line x1="439.06" y1="181.98" x2="441.98" y2="181.98" stroke="#0000ff" stroke-width="1.2" />
<line x1="441.98" y1="182.68" x2="444.9" y2="182.68" stroke="#0000ff" stroke-width="1.2" />
<line x1="444.9" y1="182.1" x2="447.82" y2="182.1" stroke="#0000ff" stroke-width="1.2" />
<line x1="447.82" y1="183.36" x2="450.74" y2="183.36" stroke="#0000ff" stroke-width="1.2" />
<line x1="450.74" y1="182.13" x2="453.66" y2="182.13" stroke="#0000ff" stroke-width="1.2" />
<line x1="453.66" y1="182.22" x2="456.58" y2="182.22" stroke="#0000ff" stroke-width="1.2" />
<line x1="456.58" y1="182" x2="459.5" y2="182" stroke="#0000ff" stroke-width="1.2" />
<line x1="459.5" y1="182.06" x2="462.42" y2="182.06" stroke="#0000ff" stroke-width="1.2" />
<line x1="460.96" y1="181.02" x2="460.96" y2="183.09" stroke="#0000ff" stroke-width="1.2" />
<line x1="462.42" y1="180.78" x2="465.34" y2="180.78" stroke="#0000ff" stroke-width="1.2" />
<line x1="463.88" y1="179.64" x2="463.88" y2="181.93" stroke="#0000ff" stroke-width="1.2" />
<line x1="465.34" y1="180" x2="468.26" y2="180" stroke="#0000ff" stroke-width="1.2" />
<line x1="466.8" y1="178.8" x2="466.8" y2="181.21" stroke="#0000ff" stroke-width="1.2" />
<line x1="468.26" y1="181.84" x2="471.18" y2="181.84" stroke="#0000ff" stroke-width="1.2" />
<line x1="469.72" y1="180.67" x2="469.72" y2="183.02" stroke="#0000ff" stroke-width="1.2" />
<line x1="471.18" y1="180.96" x2="474.1" y2="180.96" stroke="#0000ff" stroke-width="1.2" />
<line x1="472.64" y1="179.71" x2="472.64" y2="182.21" stroke="#0000ff" stroke-width="1.2" />
<line x1="474.1" y1="180.84" x2="477.02" y2="180.84" stroke="#0000ff" stroke-width="1.2" />
<line x1="475.56" y1="179.53" x2="475.56" y2="182.15" stroke="#0000ff" stroke-width="1.2" />
<line x1="477.02" y1="183.13" x2="479.94" y2="183.13" stroke="#0000ff" stroke-width="1.2" />
<line x1="478.48" y1="181.84" x2="478.48" y2="184.43" stroke="#0000ff" stroke-width="1.2" />
<line x1="479.94" y1="180.27" x2="482.86" y2="180.27" stroke="#0000ff" stroke-width="1.2" />
<line x1="481.4" y1="178.77" x2="481.4" y2="181.78" stroke="#0000ff" stroke-width="1.2" />
<line x1="482.86" y1="183.25" x2="485.78" y2="183.25" stroke="#0000ff" stroke-width="1.2" />
<line x1="484.32" y1="181.91" x2="484.32" y2="184.6" stroke="#0000ff" stroke-width="1.2" />
<line x1="485.78" y1="177.96" x2="488.7" y2="177.96" stroke="#0000ff" stroke-width="1.2" />
<line x1="487.24" y1="176.27" x2="487.24" y2="179.66" stroke="#0000ff" stroke-width="1.2" />
<line x1="488.7" y1="183.54" x2="491.62" y2="183.54" stroke="#0000ff" stroke-width="1.2" />
<line x1="490.16" y1="182.12" x2="490.16" y2="184.97" stroke="#0000ff" stroke-width="1.2" />
<line x1="491.62" y1="180.35" x2="494.54" y2="180.35" stroke="#0000ff" stroke-width="1.2" />
<line x1="493.08" y1="178.66" x2="493.08" y2="182.04" stroke="#0000ff" stroke-width="1.2" />
<line x1="494.54" y1="182.52" x2="497.46" y2="182.52" stroke="#0000ff" stroke-width="1.2" />
<line x1="496" y1="180.9" x2="496" y2="184.14" stroke="#0000ff" stroke-width="1.2" />
<line x1="497.46" y1="179.3" x2="500.38" y2="179.3" stroke="#0000ff" stroke-width="1.2" />
<line x1="498.92" y1="177.42" x2="498.92" y2="181.18" stroke="#0000ff" stroke-width="1.2" />
<line x1="500.38" y1="184.95" x2="503.3" y2="184.95" stroke="#0000ff" stroke-width="1.2" />
<line x1="501.84" y1="183.42" x2="501.84" y2="186.48" stroke="#0000ff" stroke-width="1.2" />
<line x1="503.3" y1="184.56" x2="506.22" y2="184.56" stroke="#0000ff" stroke-width="1.2" />
<line x1="504.76" y1="182.9" x2="504.76" y2="186.22" stroke="#0000ff" stroke-width="1.2" />
<line x1="506.22" y1="182.48" x2="509.14" y2="182.48" stroke="#0000ff" stroke-width="1.2" />
<line x1="507.68" y1="180.65" x2="507.68" y2="184.31" stroke="#0000ff" stroke-width="1.2" />
<line x1="509.14" y1="182.11" x2="512.06" y2="182.11" stroke="#0000ff" stroke-width="1.2" />
<line x1="510.6" y1="180.12" x2="510.6" y2="184.09" stroke="#0000ff" stroke-width="1.2" />
<line x1="512.06" y1="183.94" x2="514.98" y2="183.94" stroke="#0000ff" stroke-width="1.2" />
<line x1="513.52" y1="182.09" x2="513.52" y2="185.79" stroke="#0000ff" stroke-width="1.2" />
<line x1="514.98" y1="182.71" x2="517.9" y2="182.71" stroke="#0000ff" stroke-width="1.2" />
<line x1="516.44" y1="180.63" x2="516.44" y2="184.79" stroke="#0000ff" stroke-width="1.2" />
<line x1="517.9" y1="180.61" x2="520.82" y2="180.61" stroke="#0000ff" stroke-width="1.2" />
<line x1="519.36" y1="178.27" x2="519.36" y2="182.94" stroke="#0000ff" stroke-width="1.2" />
<line x1="520.82" y1="180.02" x2="523.74" y2="180.02" stroke="#0000ff" stroke-width="1.2" />
<line x1="522.28" y1="177.47" x2="522.28" y2="182.56" stroke="#0000ff" stroke-width="1.2" />
<line x1="523.74" y1="182.88" x2="526.66" y2="182.88" stroke="#0000ff" stroke-width="1.2" />
<line x1="525.2" y1="180.56" x2="525.2" y2="185.19" stroke="#0000ff" stroke-width="1.2" />
<line x1="526.66" y1="179.56" x2="529.58" y2="179.56" stroke="#0000ff" stroke-width="1.2" />
<line x1="528.12" y1="176.88" x2="528.12" y2="182.23" stroke="#0000ff" stroke-width="1.2" />
<line x1="529.58" y1="184.46" x2="532.5" y2="184.46" stroke="#0000ff" stroke-width="1.2" />
<line x1="531.04" y1="182.16" x2="531.04" y2="186.76" stroke="#0000ff" stroke-width="1.2" />
<line x1="532.5" y1="184.6" x2="535.42" y2="184.6" stroke="#0000ff" stroke-width="1.2" />
<line x1="533.96" y1="182.25" x2="533.96" y2="186.96" stroke="#0000ff" stroke-width="1.2" />
<line x1="535.42" y1="184.88" x2="538.34" y2="184.88" stroke="#0000ff" stroke-width="1.2" />
<line x1="536.88" y1="182.47" x2="536.88" y2="187.29" stroke="#0000ff" stroke-width="1.2" />
<line x1="538.34" y1="184.25" x2="541.26" y2="184.25" stroke="#0000ff" stroke-width="1.2" />
<line x1="539.8" y1="181.87" x2="539.8" y2="186.63" stroke="#0000ff" stroke-width="1.2" />
<line x1="541.26" y1="184.55" x2="544.18" y2="184.55" stroke="#0000ff" stroke-width="1.2" />
<line x1="542.72" y1="181.91" x2="542.72" y2="187.18" stroke="#0000ff" stroke-width="1.2" />
<line x1="544.18" y1="186" x2="547.1" y2="186" stroke="#0000ff" stroke-width="1.2" />
<line x1="545.64" y1="183.51" x2="545.64" y2="188.49" stroke="#0000ff" stroke-width="1.2" />
<line x1="547.1" y1="183.41" x2="550.02" y2="183.41" stroke="#0000ff" stroke-width="1.2" />
<line x1="548.56" y1="180.53" x2="548.56" y2="186.3" stroke="#0000ff" stroke-width="1.2" />
<line x1="550.02" y1="184.14" x2="552.94" y2="184.14" stroke="#0000ff" stroke-width="1.2" />
<line x1="551.48" y1="181.26" x2="551.48" y2="187.02" stroke="#0000ff" stroke-width="1.2" />
<line x1="552.94" y1="182.17" x2="555.86" y2="182.17" stroke="#0000ff" stroke-width="1.2" />
<line x1="554.4" y1="179.12" x2="554.4" y2="185.21" stroke="#0000ff" stroke-width="1.2" />
<line x1="555.86" y1="181.33" x2="558.78" y2="181.33" stroke="#0000ff" stroke-width="1.2" />
<line x1="557.32" y1="178.03" x2="557.32" y2="184.63" stroke="#0000ff" stroke-width="1.2" />
<line x1="558.78" y1="185.49" x2="561.7" y2="185.49" stroke="#0000ff" stroke-width="1.2" />
<line x1="560.24" y1="182.74" x2="560.24" y2="188.25" stroke="#0000ff" stroke-width="1.2" />
<line x1="561.7" y1="180.95" x2="564.62" y2="180.95" stroke="#0000ff" stroke-width="1.2" />
<line x1="563.16" y1="177.41" x2="563.16" y2="184.49" stroke="#0000ff" stroke-width="1.2" />
<line x1="564.62" y1="183.52" x2="567.54" y2="183.52" stroke="#0000ff" stroke-width="1.2" />
<line x1="566.08" y1="180.12" x2="566.08" y2="186.91" stroke="#0000ff" stroke-width="1.2" />
<line x1="567.54" y1="186.59" x2="570.46" y2="186.59" stroke="#0000ff" stroke-width="1.2" />
<line x1="569" y1="183.73" x2="569" y2="189.45" stroke="#0000ff" stroke-width="1.2" />
<line x1="570.46" y1="187.61" x2="573.38" y2="187.61" stroke="#0000ff" stroke-width="1.2" />
<line x1="571.92" y1="184.63" x2="571.92" y2="190.6" stroke="#0000ff" stroke-width="1.2" />
<line x1="573.38" y1="185.12" x2="576.3" y2="185.12" stroke="#0000ff" stroke-width="1.2" />
<line x1="574.84" y1="181.93" x2="574.84" y2="188.31" stroke="#0000ff" stroke-width="1.2" />
<line x1="576.3" y1="185.16" x2="579.22" y2="185.16" stroke="#0000ff" stroke-width="1.2" />
<line x1="577.76" y1="181.56" x2="577.76" y2="188.75" stroke="#0000ff" stroke-width="1.2" />
<line x1="579.22" y1="181.42" x2="582.14" y2="181.42" stroke="#0000ff" stroke-width="1.2" />
<line x1="580.68" y1="177.21" x2="580.68" y2="185.63" stroke="#0000ff" stroke-width="1.2" />
<line x1="582.14" y1="183.4" x2="585.06" y2="183.4" stroke="#0000ff" stroke-width="1.2" />
<line x1="583.6" y1="179.54" x2="583.6" y2="187.26" stroke="#0000ff" stroke-width="1.2" />
<line x1="585.06" y1="178.89" x2="587.98" y2="178.89" stroke="#0000ff" stroke-width="1.2" />
<line x1="586.52" y1="174.13" x2="586.52" y2="183.65" stroke="#0000ff" stroke-width="1.2" />
<line x1="587.98" y1="177.26" x2="590.9" y2="177.26" stroke="#0000ff" stroke-width="1.2" />
<line x1="589.44" y1="171.99" x2="589.44" y2="182.53" stroke="#0000ff" stroke-width="1.2" />
<line x1="590.9" y1="182.53" x2="593.82" y2="182.53" stroke="#0000ff" stroke-width="1.2" />
<line x1="592.36" y1="177.68" x2="592.36" y2="187.38" stroke="#0000ff" stroke-width="1.2" />
<line x1="593.82" y1="179.2" x2="596.74" y2="179.2" stroke="#0000ff" stroke-width="1.2" />
<line x1="595.28" y1="173.91" x2="595.28" y2="184.49" stroke="#0000ff" stroke-width="1.2" />
<line x1="596.74" y1="185.5" x2="599.66" y2="185.5" stroke="#0000ff" stroke-width="1.2" />
<line x1="598.2" y1="180.74" x2="598.2" y2="190.25" stroke="#0000ff" stroke-width="1.2" />
<line x1="599.66" y1="187.77" x2="602.58" y2="187.77" stroke="#0000ff" stroke-width="1.2" />
<line x1="601.12" y1="183.66" x2="601.12" y2="191.88" stroke="#0000ff" stroke-width="1.2" />
<line x1="602.58" y1="181" x2="605.5" y2="181" stroke="#0000ff" stroke-width="1.2" />
<line x1="604.04" y1="175.25" x2="604.04" y2="186.75" stroke="#0000ff" stroke-width="1.2" />
<line x1="605.5" y1="184.86" x2="608.42" y2="184.86" stroke="#0000ff" stroke-width="1.2" />
<line x1="606.96" y1="179.69" x2="606.96" y2="190.03" stroke="#0000ff" stroke-width="1.2" />
<line x1="608.42" y1="181.26" x2="611.34" y2="181.26" stroke="#0000ff" stroke-width="1.2" />
<line x1="609.88" y1="174.96" x2="609.88" y2="187.56" stroke="#0000ff" stroke-width="1.2" />
<line x1="611.34" y1="184.24" x2="614.26" y2="184.24" stroke="#0000ff" stroke-width="1.2" />
<line x1="612.8" y1="178.9" x2="612.8" y2="189.59" stroke="#0000ff" stroke-width="1.2" />
<line x1="614.26" y1="177.17" x2="617.18" y2="177.17" stroke="#0000ff" stroke-width="1.2" />
<line x1="615.72" y1="169.5" x2="615.72" y2="184.85" stroke="#0000ff" stroke-width="1.2" />
<line x1="617.18" y1="175.17" x2="620.1" y2="175.17" stroke="#0000ff" stroke-width="1.2" />
<line x1="618.64" y1="167.24" x2="618.64" y2="183.1" stroke="#0000ff" stroke-width="1.2" />
<line x1="620.1" y1="189.61" x2="623.02" y2="189.61" stroke="#0000ff" stroke-width="1.2" />
<line x1="621.56" y1="184.72" x2="621.56" y2="194.5" stroke="#0000ff" stroke-width="1.2" />
<line x1="623.02" y1="183.59" x2="625.94" y2="183.59" stroke="#0000ff" stroke-width="1.2" />
<line x1="624.48" y1="177.21" x2="624.48" y2="189.98" stroke="#0000ff" stroke-width="1.2" />
<line x1="625.94" y1="188.89" x2="628.86" y2="188.89" stroke="#0000ff" stroke-width="1.2" />
<line x1="627.4" y1="183.86" x2="627.4" y2="193.92" stroke="#0000ff" stroke-width="1.2" />
<line x1="628.86" y1="186.68" x2="631.78" y2="186.68" stroke="#0000ff" stroke-width="1.2" />
<line x1="630.32" y1="181.39" x2="630.32" y2="191.97" stroke="#0000ff" stroke-width="1.2" />
<line x1="631.78" y1="187.6" x2="634.7" y2="187.6" stroke="#0000ff" stroke-width="1.2" />
<line x1="633.24" y1="182.04" x2="633.24" y2="193.17" stroke="#0000ff" stroke-width="1.2" />
<line x1="634.7" y1="182.39" x2="637.62" y2="182.39" stroke="#0000ff" stroke-width="1.2" />
<line x1="636.16" y1="174.27" x2="636.16" y2="190.51" stroke="#0000ff" stroke-width="1.2" />
<line x1="637.62" y1="187.97" x2="640.54" y2="187.97" stroke="#0000ff" stroke-width="1.2" />
<line x1="639.08" y1="181.88" x2="639.08" y2="194.06" stroke="#0000ff" stroke-width="1.2" />
<line x1="640.54" y1="157.67" x2="643.46" y2="157.67" stroke="#0000ff" stroke-width="1.2" />
<line x1="642" y1="141.06" x2="642" y2="174.27" stroke="#0000ff" stroke-width="1.2" />
<line x1="643.46" y1="168.98" x2="646.38" y2="168.98" stroke="#0000ff" stroke-width="1.2" />
<line x1="644.92" y1="156.06" x2="644.92" y2="181.89" stroke="#0000ff" stroke-width="1.2" />
<line x1="646.38" y1="184.8" x2="649.3" y2="184.8" stroke="#0000ff" stroke-width="1.2" />
<line x1="647.84" y1="177.27" x2="647.84" y2="192.32" stroke="#0000ff" stroke-width="1.2" />
<line x1="649.3" y1="168.67" x2="652.22" y2="168.67" stroke="#0000ff" stroke-width="1.2" />
<line x1="650.76" y1="153.28" x2="650.76" y2="184.05" stroke="#0000ff" stroke-width="1.2" />
<line x1="652.22" y1="173" x2="655.14" y2="173" stroke="#0000ff" stroke-width="1.2" />
<line x1="653.68" y1="159.03" x2="653.68" y2="186.97" stroke="#0000ff" stroke-width="1.2" />
<line x1="655.14" y1="186" x2="658.06" y2="186" stroke="#0000ff" stroke-width="1.2" />
<line x1="656.6" y1="177.15" x2="656.6" y2="194.85" stroke="#0000ff" stroke-width="1.2" />
<line x1="658.06" y1="190.92" x2="660.98" y2="190.92" stroke="#0000ff" stroke-width="1.2" />
<line x1="659.52" y1="185.52" x2="659.52" y2="196.33" stroke="#0000ff" stroke-width="1.2" />
<line x1="660.98" y1="190.71" x2="663.9" y2="190.71" stroke="#0000ff" stroke-width="1.2" />
<line x1="662.44" y1="185.37" x2="662.44" y2="196.05" stroke="#0000ff" stroke-width="1.2" />
<line x1="663.9" y1="187.81" x2="666.82" y2="187.81" stroke="#0000ff" stroke-width="1.2" />
<line x1="665.36" y1="179.52" x2="665.36" y2="196.1" stroke="#0000ff" stroke-width="1.2" />
<line x1="666.82" y1="182.39" x2="669.74" y2="182.39" stroke="#0000ff" stroke-width="1.2" />
<line x1="668.28" y1="172.44" x2="668.28" y2="192.33" stroke="#0000ff" stroke-width="1.2" />
<line x1="669.74" y1="178.78" x2="672.66" y2="178.78" stroke="#0000ff" stroke-width="1.2" />
<line x1="671.2" y1="166.04" x2="671.2" y2="191.52" stroke="#0000ff" stroke-width="1.2" />
<line x1="672.66" y1="199" x2="675.58" y2="199" stroke="#0000ff" stroke-width="1.2" />
<line x1="674.12" y1="195.37" x2="674.12" y2="202.63" stroke="#0000ff" stroke-width="1.2" />
<line x1="675.58" y1="188.17" x2="678.5" y2="188.17" stroke="#0000ff" stroke-width="1.2" />
<line x1="677.04" y1="179.21" x2="677.04" y2="197.13" stroke="#0000ff" stroke-width="1.2" />
</g>
<line x1="170" y1="29.5" x2="202.7" y2="29.5" stroke="#000" stroke-width="1.15" stroke-dasharray="2.3,1.6"/>
<line x1="170" y1="46.5" x2="202.7" y2="46.5" stroke="#ff0000" stroke-width="1.3" />
<line x1="170" y1="63.5" x2="202.7" y2="63.5" stroke="#0000ff" stroke-width="1.3" />
<line x1="528.4" y1="36.5" x2="561" y2="36.5" stroke="#000" stroke-width="1.15" stroke-dasharray="2.3,1.6"/>
<line x1="528.4" y1="58.5" x2="561" y2="58.5" stroke="#ff0000" stroke-width="1.3" />
<line x1="528.4" y1="80.5" x2="561" y2="80.5" stroke="#0000ff" stroke-width="1.3" />
<g font-family='"Liberation Sans", sans-serif' fill="#000" stroke="#000" stroke-width="0.1" style="filter:grayscale(1)">
<g transform="translate(0,14.9) scale(1,1.08) translate(0,-14.9)"><text x="167.52" y="14.9" font-size="8.3">N</text><text x="173.28" y="17.3" font-size="5.15">c</text><text x="176.03" y="19.5" font-size="4.57">D</text><text x="179.3" y="14.9" font-size="8.3" letter-spacing="0.35">=3,</text><text x="194.42" y="14.9" font-size="8.3">N</text><text x="200.33" y="18.8" font-size="5.15">f</text><text x="201.93" y="21.1" font-size="4.57">D</text><text x="204.8" y="14.9" font-size="8.3" letter-spacing="0.35">=8,</text><text x="220.47" y="14.9" font-size="8.3">Λ</text><text x="226.18" y="17.7" font-size="5.15">D</text><text x="230.9" y="14.9" font-size="8.3" letter-spacing="0.35">=10 GeV,</text><text x="271.25" y="14.9" font-size="8.3">m</text><text x="277.7" y="17.9" font-size="5.15">π</text><text x="281.1" y="14.9" font-size="8.3" letter-spacing="0.35">/Λ</text><text x="289.28" y="17.7" font-size="5.15">D</text><text x="294.3" y="14.9" font-size="8.3" letter-spacing="0.35">=0.6</text></g>
<g transform="translate(0,14.9) scale(1,1.08) translate(0,-14.9)"><text x="526.12" y="14.9" font-size="8.3">N</text><text x="531.88" y="17.3" font-size="5.15">c</text><text x="534.63" y="19.5" font-size="4.57">D</text><text x="537.9" y="14.9" font-size="8.3" letter-spacing="0.35">=3,</text><text x="553.02" y="14.9" font-size="8.3">N</text><text x="558.93" y="18.8" font-size="5.15">f</text><text x="560.53" y="21.1" font-size="4.57">D</text><text x="563.4" y="14.9" font-size="8.3" letter-spacing="0.35">=8,</text><text x="579.07" y="14.9" font-size="8.3">Λ</text><text x="584.78" y="17.7" font-size="5.15">D</text><text x="589.5" y="14.9" font-size="8.3" letter-spacing="0.35">=10 GeV,</text><text x="629.85" y="14.9" font-size="8.3">m</text><text x="636.3" y="17.9" font-size="5.15">π</text><text x="639.7" y="14.9" font-size="8.3" letter-spacing="0.35">/Λ</text><text x="647.88" y="17.7" font-size="5.15">D</text><text x="652.9" y="14.9" font-size="8.3" letter-spacing="0.35">=0.6</text></g>
<text x="209.5" y="32.3" font-size="8.9" text-anchor="start" >Pythia 8245, SFoff</text>
<text x="209.5" y="49.5" font-size="8.9" text-anchor="start" >Pythia 8307, SFon</text>
<text x="209.5" y="66.7" font-size="8.9" text-anchor="start" >Pythia 8307, SFoff</text>
<text x="567.8" y="39.2" font-size="8.9" text-anchor="start" >Pythia 8245, SFoff</text>
<text x="567.8" y="61.1" font-size="8.9" text-anchor="start" >Pythia 8307, SFon</text>
<text x="567.8" y="83.1" font-size="8.9" text-anchor="start" >Pythia 8307, SFoff</text>
<text transform="translate(24.4,8.2) scale(1,1.15)" y="2.83" font-size="7.9" text-anchor="end">10</text>
<text transform="translate(25.6,36.96) scale(1,1.15)" y="2.83" font-size="7.9" text-anchor="end">1</text>
<text transform="translate(24.3,67.32) scale(1,1.15)" y="2.83" font-size="7.9" text-anchor="end">10<tspan font-size="5.53" dx="0.8" dy="-3.56">−1</tspan></text>
<text transform="translate(24.3,97.08) scale(1,1.15)" y="2.83" font-size="7.9" text-anchor="end">10<tspan font-size="5.53" dx="0.8" dy="-3.56">−2</tspan></text>
<text transform="translate(24.3,126.84) scale(1,1.15)" y="2.83" font-size="7.9" text-anchor="end">10<tspan font-size="5.53" dx="0.8" dy="-3.56">−3</tspan></text>
<text transform="translate(24.3,156.6) scale(1,1.15)" y="2.83" font-size="7.9" text-anchor="end">10<tspan font-size="5.53" dx="0.8" dy="-3.56">−4</tspan></text>
<text transform="translate(26.9,208.27) scale(1,1.15)" y="2.83" font-size="7.9" text-anchor="end">0</text>
<text transform="translate(27.3,186.4) scale(1,1.15)" y="2.83" font-size="7.9" text-anchor="end">1</text>
<text transform="translate(26,164.93) scale(1,1.15)" y="2.83" font-size="7.9" text-anchor="end">2</text>
<text transform="translate(384.2,5.8) scale(1,1.15)" y="2.83" font-size="7.9" text-anchor="end">1</text>
<text transform="translate(382.9,43.5) scale(1,1.15)" y="2.83" font-size="7.9" text-anchor="end">10<tspan font-size="5.53" dx="0.8" dy="-3.56">−1</tspan></text>
<text transform="translate(382.9,80.6) scale(1,1.15)" y="2.83" font-size="7.9" text-anchor="end">10<tspan font-size="5.53" dx="0.8" dy="-3.56">−2</tspan></text>
<text transform="translate(382.9,117.7) scale(1,1.15)" y="2.83" font-size="7.9" text-anchor="end">10<tspan font-size="5.53" dx="0.8" dy="-3.56">−3</tspan></text>
<text transform="translate(382.9,154.8) scale(1,1.15)" y="2.83" font-size="7.9" text-anchor="end">10<tspan font-size="5.53" dx="0.8" dy="-3.56">−4</tspan></text>
<text transform="translate(385.5,208.27) scale(1,1.15)" y="2.83" font-size="7.9" text-anchor="end">0</text>
<text transform="translate(385.9,186.4) scale(1,1.15)" y="2.83" font-size="7.9" text-anchor="end">1</text>
<text transform="translate(384.6,164.93) scale(1,1.15)" y="2.83" font-size="7.9" text-anchor="end">2</text>
<text transform="translate(33.62,215.9) scale(1,1.15)" y="2.83" font-size="7.9" text-anchor="middle">0</text>
<text transform="translate(89.77,215.9) scale(1,1.15)" y="2.83" font-size="7.9" text-anchor="middle">5</text>
<text transform="translate(145.92,215.9) scale(1,1.15)" y="2.83" font-size="7.9" text-anchor="middle">10</text>
<text transform="translate(202.08,215.9) scale(1,1.15)" y="2.83" font-size="7.9" text-anchor="middle">15</text>
<text transform="translate(258.23,215.9) scale(1,1.15)" y="2.83" font-size="7.9" text-anchor="middle">20</text>
<text transform="translate(314.38,215.9) scale(1,1.15)" y="2.83" font-size="7.9" text-anchor="middle">25</text>
<text transform="translate(386.5,215.9) scale(1,1.15)" y="2.83" font-size="7.9" text-anchor="middle">0</text>
<text transform="translate(428.21,215.9) scale(1,1.15)" y="2.83" font-size="7.9" text-anchor="middle">50</text>
<text transform="translate(469.93,215.9) scale(1,1.15)" y="2.83" font-size="7.9" text-anchor="middle">100</text>
<text transform="translate(511.64,215.9) scale(1,1.15)" y="2.83" font-size="7.9" text-anchor="middle">150</text>
<text transform="translate(553.36,215.9) scale(1,1.15)" y="2.83" font-size="7.9" text-anchor="middle">200</text>
<text transform="translate(595.07,215.9) scale(1,1.15)" y="2.83" font-size="7.9" text-anchor="middle">250</text>
<text transform="translate(636.79,215.9) scale(1,1.15)" y="2.83" font-size="7.9" text-anchor="middle">300</text>
<text transform="translate(678.5,215.9) scale(1,1.15)" y="2.83" font-size="7.9" text-anchor="middle">350</text>
<text x="319" y="228.6" font-size="8.25" text-anchor="end" >Number of ρ dark mesons</text>
<text x="677.4" y="227.3" font-size="8.1" text-anchor="end">π dark mesons p<tspan font-size="5.7" dy="4.2">T</tspan><tspan dy="-4.2"> [GeV]</tspan></text>
<text transform="translate(6.5,59.9) rotate(-90)" font-size="9.0">Normalized to 1</text>
<text transform="translate(6.5,181.7) rotate(-90)" font-size="9.1">Ratio</text>
<text transform="translate(364.9,59.9) rotate(-90)" font-size="9.0">Normalized to 1</text>
<text transform="translate(364.9,181.7) rotate(-90)" font-size="9.1">Ratio</text>
</g>
<g style="filter:grayscale(1)"><text x="174.6" y="247.7" style="font-family:'Liberation Serif',serif;font-weight:bold" font-size="13.5" text-anchor="middle">(a)</text>
<text x="534" y="247.7" style="font-family:'Liberation Serif',serif;font-weight:bold" font-size="13.5" text-anchor="middle">(b)</text></g>
</g>
</svg>
</body></html>
